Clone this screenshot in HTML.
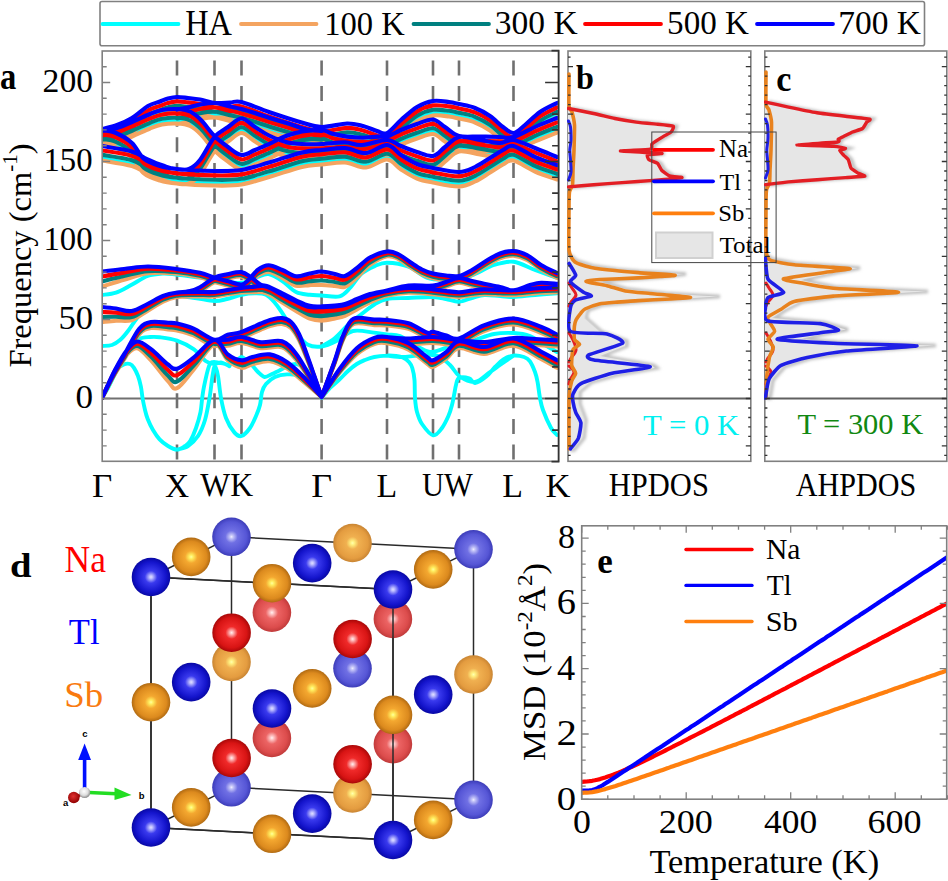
<!DOCTYPE html><html><head><meta charset="utf-8"><style>html,body{margin:0;padding:0;background:#fff;}svg{display:block;}</style></head><body><svg width="948" height="881" viewBox="0 0 948 881">
<defs>
<clipPath id="clipA"><rect x="102" y="51" width="456" height="410"/></clipPath>
<clipPath id="clipB"><rect x="567" y="51" width="184" height="410"/></clipPath>
<clipPath id="clipC"><rect x="764" y="51" width="183" height="410"/></clipPath>
<clipPath id="clipE"><rect x="582" y="526" width="365" height="273"/></clipPath>
<filter id="blur1" x="-20%" y="-20%" width="140%" height="140%"><feGaussianBlur stdDeviation="1.6"/></filter>
</defs>
<rect width="948" height="881" fill="#fff"/>
<rect x="100" y="1.5" width="824.5" height="44.2" rx="2" fill="none" stroke="#808080" stroke-width="1.6"/>
<line x1="102.5" y1="24" x2="178.5" y2="24" stroke="#00ffff" stroke-width="3.8" stroke-linecap="round"/>
<text transform="translate(185.17,34.90) scale(0.9254,1)" font-family="Liberation Serif, serif" font-size="34.99" fill="#000">HA</text>
<line x1="241" y1="24" x2="316.5" y2="24" stroke="#f4a460" stroke-width="3.8" stroke-linecap="round"/>
<text transform="translate(324.23,34.56) scale(0.9402,1)" font-family="Liberation Serif, serif" font-size="34.68" fill="#000">100 K</text>
<line x1="413.5" y1="24" x2="489" y2="24" stroke="#008080" stroke-width="3.8" stroke-linecap="round"/>
<text transform="translate(494.69,34.36) scale(0.9759,1)" font-family="Liberation Serif, serif" font-size="34.38" fill="#000">300 K</text>
<line x1="585" y1="24" x2="661" y2="24" stroke="#ff0000" stroke-width="3.8" stroke-linecap="round"/>
<text transform="translate(667.08,34.37) scale(0.9801,1)" font-family="Liberation Serif, serif" font-size="33.79" fill="#000">500 K</text>
<line x1="757" y1="24" x2="833" y2="24" stroke="#0000ff" stroke-width="3.8" stroke-linecap="round"/>
<text transform="translate(838.29,34.37) scale(0.9907,1)" font-family="Liberation Serif, serif" font-size="33.79" fill="#000">700 K</text>
<line x1="177" y1="60.5" x2="177" y2="461" stroke="#707070" stroke-width="2.6" stroke-dasharray="15 10.6"/>
<line x1="214.5" y1="60.5" x2="214.5" y2="461" stroke="#707070" stroke-width="2.6" stroke-dasharray="15 10.6"/>
<line x1="241.5" y1="60.5" x2="241.5" y2="461" stroke="#707070" stroke-width="2.6" stroke-dasharray="15 10.6"/>
<line x1="321.6" y1="60.5" x2="321.6" y2="461" stroke="#707070" stroke-width="2.6" stroke-dasharray="15 10.6"/>
<line x1="387" y1="60.5" x2="387" y2="461" stroke="#707070" stroke-width="2.6" stroke-dasharray="15 10.6"/>
<line x1="433" y1="60.5" x2="433" y2="461" stroke="#707070" stroke-width="2.6" stroke-dasharray="15 10.6"/>
<line x1="459" y1="60.5" x2="459" y2="461" stroke="#707070" stroke-width="2.6" stroke-dasharray="15 10.6"/>
<line x1="513.5" y1="60.5" x2="513.5" y2="461" stroke="#707070" stroke-width="2.6" stroke-dasharray="15 10.6"/>
<line x1="102" y1="398.5" x2="558" y2="398.5" stroke="#707070" stroke-width="2"/>
<g clip-path="url(#clipA)" fill="none" stroke-linejoin="round" stroke-linecap="round">
<path d="M102,141.5C104.5,140.9 112,139.4 117,137.5C122,135.7 126.8,133.7 132,130.5C137.2,127.4 143.3,121.3 148,118.5C152.7,115.8 156.7,115.3 160,114C163.3,112.8 165.2,111.8 168,111C170.8,110.3 173.7,109.6 177,109.5C180.3,109.5 184.2,110.1 188,110.5C191.8,111 195.6,111.2 200,112C204.4,112.9 209.5,115 214.5,115.5C219.5,116 225.5,115.2 230,115C234.5,114.9 235,113 241.5,114.5C248,116.1 259.2,121.2 269,124.5C278.8,127.9 291.2,132 300,134.5C308.8,137 313.8,139.3 321.6,139.5C329.4,139.8 340.1,136.2 347,136C353.9,135.9 358,137.3 363,138.5C368,139.8 373,142.4 377,143.5C381,144.7 383,147.4 387,145.5C391,143.7 396,136.9 401,132.5C406,128.2 411.7,122.7 417,119.5C422.3,116.4 427.7,114.4 433,113.5C438.3,112.7 444.7,114 449,114.5C453.3,115 454.7,115.5 459,116.5C463.3,117.5 469.8,118.5 475,120.5C480.2,122.5 485.3,125.4 490,128.5C494.7,131.7 499.1,136.7 503,139.5C506.9,142.4 509.8,145.9 513.5,145.5C517.2,145.2 520.6,141 525,137.5C529.4,134 534.7,128.2 540,124.5C545.3,120.9 554.2,117 557,115.5 M102,143.5C104.5,143 112,142 117,140.5C122,139 126.5,136.9 132,134.5C137.5,132.2 145,128.5 150,126.5C155,124.5 157.5,123.4 162,122.5C166.5,121.7 172.3,121.3 177,121.5C181.7,121.8 186,122.2 190,124C194,125.9 196.9,128.5 201,132.5C205.1,136.6 210,144 214.5,148.5C219,153 223.5,156.4 228,159.5C232.5,162.7 237,167 241.5,167.5C246,168 250.4,164.4 255,162.5C259.6,160.7 263.8,158.9 269,156.5C274.2,154.2 280.5,150.6 286,148.5C291.5,146.5 296.1,145 302,144C307.9,143 316.6,142.2 321.6,142.5C326.6,142.9 327.8,144.9 332,146C336.2,147.1 341.8,148.4 347,149.1C352.2,149.8 358,150.2 363,150.2C368,150.2 373,149.3 377,149.1C381,148.9 383,150.1 387,149C391,147.9 396,144.6 401,142.5C406,140.5 411.7,138.3 417,136.5C422.3,134.8 428.3,131.5 433,132C437.7,132.5 440.7,136.8 445,139.5C449.3,142.3 453.2,147 459,148.5C464.8,150.1 473.2,148.9 480,149C486.8,149.2 494.4,149.5 500,149.5C505.6,149.6 507.7,151.2 513.5,149.5C519.3,147.9 527.8,142.7 535,139.5C542.2,136.4 553.3,132 557,130.5 M102,142.5C104.3,143 111,143.4 116,145.5C121,147.7 127.3,151.2 132,155.5C136.7,159.9 139.3,167.7 144,171.5C148.7,175.4 154.5,176.9 160,178.5C165.5,180.2 172.2,181 177,181.5C181.8,182 185.2,183 189,181.5C192.8,180 195.8,177.9 200,172.5C204.2,167.2 209.8,155 214.5,149.5C219.2,144 223.5,142.6 228,139.5C232.5,136.5 237,131 241.5,131C246,131 250.4,136.7 255,139.5C259.6,142.4 263.8,145.5 269,148C274.2,150.5 280.5,153.1 286,154.5C291.5,156 296.1,156.2 302,156.5C307.9,156.9 314.4,156.8 321.6,156.5C328.8,156.3 338.3,154.7 345,154.8C351.7,155 355,157.9 362,157.5C369,157.2 380.5,152.4 387,152.5C393.5,152.7 396,156.5 401,158.5C406,160.5 411.7,162.9 417,164.5C422.3,166.2 428.3,169.4 433,168.5C437.7,167.7 440.7,162.7 445,159.5C449.3,156.4 453.2,150.7 459,149.5C464.8,148.4 473.2,151.5 480,152.5C486.8,153.5 494.4,155.5 500,155.5C505.6,155.5 507.7,151.7 513.5,152.5C519.3,153.4 527.8,157.7 535,160.5C542.2,163.4 553.3,168 557,169.5 M177,122.1C178.8,121.8 184.2,120.9 188,120C191.8,119.2 195.6,117.8 200,117C204.4,116.3 209.8,115.3 214.5,115.5C219.2,115.8 223.5,117.5 228,118.5C232.5,119.5 237,120.4 241.5,121.5C246,122.7 250.2,124 255,125.5C259.8,127 264.2,128.7 270,130.5C275.8,132.4 284.2,134.7 290,136.5C295.8,138.4 299.7,140.4 305,141.5C310.3,142.7 318.8,143.2 321.6,143.5 M102,158.5C107,159.5 124.5,161.9 132,164C139.5,166.2 141.8,169.2 147,171.5C152.2,173.9 158,176.4 163,178C168,179.7 168.4,180.6 177,181.5C185.6,182.5 203.8,183.4 214.5,183.5C225.2,183.7 232.4,184 241.5,182.5C250.6,181.1 258.9,178 269,175C279.1,172.1 293.2,167 302,164.9C310.8,162.9 314.4,163.3 321.6,162.5C328.8,161.8 337.6,160 345,160.5C352.4,161 359,166 366,165.5C373,165 381.2,157.2 387,157.5C392.8,157.9 396,164.4 401,167.5C406,170.7 411.7,174.4 417,176.5C422.3,178.7 426,179.2 433,180.5C440,181.9 452,184.7 459,184.5C466,184.4 469.8,181.9 475,179.5C480.2,177.2 485.3,173.4 490,170.5C494.7,167.7 499.1,164.5 503,162.5C506.9,160.5 508.2,157.4 513.5,158.5C518.8,159.7 527.8,166.4 535,169.5C542.2,172.7 553.3,176.2 557,177.5 M102,295C104.3,294.6 111.1,294.4 116,292.7C120.9,291 126.3,287.6 131.6,284.8C136.8,282 142.3,277.9 147.5,276C152.7,274.1 158.2,273.8 163,273.5C167.8,273.2 170.7,273.9 176,274.5C181.3,275.1 188.6,276.2 195,277C201.4,277.8 209.2,278.7 214.5,279.5C219.8,280.3 222.5,281.4 227,282C231.5,282.6 237.7,283.3 241.5,283C245.3,282.7 247.3,281 250,280C252.7,279 254.5,278 257.6,277C260.7,276 264.5,273.5 268.6,274.2C272.7,274.9 277.7,278 282.3,281C286.9,284 291.4,289.7 296,292C300.6,294.3 305.4,294.2 309.7,294.8C314,295.4 316.6,295.2 321.6,295.5C326.6,295.8 334.9,297.6 339.6,296.4C344.3,295.1 346.3,291.8 350,288C353.7,284.2 357.4,277.3 361.6,273.6C365.8,269.9 370.8,267.8 375,266C379.2,264.2 381.4,262.6 387,262.7C392.6,262.8 401.8,264.1 408.5,266.6C415.2,269.2 421.2,275.8 427.5,278C433.8,280.2 440.8,279.7 446,280C451.2,280.3 454.2,281 459,280C463.8,279 469.2,276.5 475,274C480.8,271.5 487.6,267 494,265C500.4,263 506.7,261 513.5,261.8C520.3,262.6 527.8,267.3 535,270C542.2,272.7 553.3,276.7 557,278 M102,346C103.7,345.8 109,346 112,345C115,344 117.3,342.3 120,340C122.7,337.7 125.2,334.7 128,331C130.8,327.3 133.8,322.2 137,318C140.2,313.8 143.2,309.2 147,306C150.8,302.8 155.2,300.7 160,299C164.8,297.3 170.2,296.2 176,296C181.8,295.8 188.6,297.2 195,298C201.4,298.8 209.2,300.8 214.5,301C219.8,301.2 222.5,300 227,299C231.5,298 236.8,295.7 241.5,294.8C246.2,293.9 250.9,293.4 255,293.4C259.1,293.4 262.7,293.2 266,294.8C269.3,296.4 272.3,300 275,303C277.7,306 279.5,308.9 282,312.6C284.5,316.3 287.7,321.6 290,325C292.3,328.4 293,329.7 296,333C299,336.3 303.7,342.6 308,344.8C312.3,347.1 316.9,347.1 321.6,346.5C326.3,345.9 330.8,343.9 336,341.3C341.2,338.7 346.7,332.4 353,331C359.3,329.6 368.3,332 374,332.6C379.7,333.2 382.7,333.8 387,334.4C391.3,335 395.3,334.2 400,336C404.7,337.8 410,342.3 415,345C420,347.7 424.8,351.5 430,352C435.2,352.5 441.2,349.2 446,348C450.8,346.8 454.2,346.3 459,345C463.8,343.7 469.2,341.8 475,340C480.8,338.2 487.6,335.2 494,334C500.4,332.8 507.5,332.7 513.5,333C519.5,333.3 524.8,334 530,336C535.2,338 540.5,342.3 545,345C549.5,347.7 555,350.8 557,352 M321.6,346.5C323.8,345.1 330.6,341.6 335,338C339.4,334.4 343.6,329 348,325C352.4,321 357.1,317.5 361.6,314C366.1,310.5 370.8,306.5 375,304C379.2,301.5 381.5,300 387,299C392.5,298 400.3,298.3 408,298C415.7,297.7 426.7,296.8 433,297C439.3,297.2 441.7,298.2 446,299C450.3,299.8 454.7,301.9 459,301.7C463.3,301.5 467.8,299.1 472,298C476.2,296.9 479.7,295.3 484.4,295C489.1,294.7 495.1,295.7 500,296C504.9,296.3 507.7,297.2 513.5,297C519.3,296.8 527.8,295.6 535,295C542.2,294.4 553.3,293.5 557,293.2 M102,398C102.7,396.7 104.6,392.8 106,390C107.4,387.2 108.5,384.8 110.2,381.5C111.9,378.2 113.7,372.8 116,370C118.3,367.2 121.5,365.5 123.8,364.5C126.1,363.5 128.3,363.4 130,364C131.7,364.6 132.7,365.9 134,367.9C135.3,369.9 136.8,372.9 138,376C139.2,379.1 140.1,382.9 140.9,386.6C141.7,390.4 141.9,394.6 142.6,398.5C143.3,402.4 144.2,406.6 145,410C145.8,413.4 146.4,415.7 147.7,419C149,422.3 151,426.6 153,430C155,433.4 157.1,436.7 159.6,439.4C162.1,442.1 165.1,444.3 168,446C170.9,447.7 174.2,449.6 177,449.6C179.8,449.6 182.8,447.4 185,446C187.2,444.6 188.4,444.1 190.2,441.1C192,438.1 194.3,432.8 196,428C197.7,423.2 199.5,417.2 200.5,412.2C201.5,407.2 201.6,402.3 202.2,398C202.8,393.7 202.9,391.9 204,386.6C205.1,381.3 207.5,370.3 209,366.2C210.5,362.1 211.3,362.6 213,362C214.7,361.4 217.2,362.5 219.2,362.8C221.2,363.1 223.3,363.4 225,364C226.7,364.6 228.7,365.8 229.4,366.2 M177,449.6C178.8,449 184.5,448.3 188,446C191.5,443.7 195.2,440.3 198,436C200.8,431.7 203.1,426.3 205,420C206.9,413.7 208.2,405.3 209.5,398C210.8,390.7 211.6,381.3 212.5,376C213.4,370.7 214.1,366 215,366C215.9,366 217,370.7 218,376C219,381.3 219.7,391 221,398C222.3,405 223.8,412.2 226,418C228.2,423.8 231.9,429.6 234.5,432.6C237.1,435.6 238.9,436.8 241.5,436C244.1,435.2 247.6,431.3 250,428C252.4,424.7 254.3,419.8 256,416C257.7,412.2 259,409 260,405C261,401 261,395.5 262,392C263,388.5 263.8,386.5 266,384C268.2,381.5 271.5,378.6 275,377C278.5,375.4 282.7,374.6 287,374.4C291.3,374.2 296.7,374.2 301,376C305.3,377.8 309.6,381.3 313,385C316.4,388.7 320.2,395.8 321.6,398 M102,398C103,396.3 106,391.7 108,388C110,384.3 111.7,380.7 114,376C116.3,371.3 119.3,364.7 122,360C124.7,355.3 127.2,351.5 130,348C132.8,344.5 135.7,340.8 139,339C142.3,337.2 146.6,337.3 150,337C153.4,336.7 155.1,336.6 159.6,337.2C164.1,337.8 171.3,338.6 177,340.6C182.7,342.6 188.8,345.8 193.6,349.2C198.4,352.6 202.2,358.5 205.6,361C209,363.5 211.4,363.8 214,364C216.6,364.2 218.5,362.3 221,362.5C223.5,362.7 226.5,365.2 229,365C231.5,364.8 233.9,362.3 236,361C238.1,359.7 239.7,357 241.5,357C243.3,357 245.2,359.6 247,361C248.8,362.4 250.6,363.9 252.4,365.7C254.2,367.5 256,370.1 258,372C260,373.9 262.3,376.7 264.6,377C266.9,377.3 269.7,375 272,374C274.3,373 275.8,372.2 278.5,370.9C281.2,369.6 285.1,367.1 288,366C290.9,364.9 293.2,363.7 296,364C298.8,364.3 302.1,365.4 305,368C307.9,370.6 310.5,374.6 313.3,379.6C316.1,384.6 320.2,394.9 321.6,398 M321.6,398C323,396.3 327,391.1 330,388C333,384.9 336.4,382.4 339.4,379.6C342.4,376.8 345.1,373.6 348,371C350.9,368.4 354,365.8 356.8,364C359.6,362.2 362.1,361.2 365,360C367.9,358.8 370.6,357.7 374.3,357C378,356.3 383.4,355.8 387,355.6C390.6,355.4 393.4,355.7 396,356C398.6,356.3 400.6,356.5 402.8,357.5C405,358.5 407.4,360.2 409,362C410.6,363.8 411.4,365 412.3,368C413.2,371 414.1,375 414.5,380C414.9,385 414.6,392.7 415,398C415.4,403.3 415.8,407.7 417,412C418.2,416.3 419.3,420.1 422,424C424.7,427.9 429.9,434.6 433.2,435.3C436.5,436 439.5,431.2 442,428C444.5,424.8 446.6,420.1 448.3,416.3C450,412.5 451.1,408.5 452,405C452.9,401.5 453.3,398.7 454,395.4C454.7,392.1 455.2,387.9 456,385C456.8,382.1 456.8,379.1 459,378C461.2,376.9 466.5,377.5 469.2,378.3C471.9,379.1 472.1,383.3 475,383C477.9,382.7 483,379.2 486.3,376.5C489.6,373.8 492.1,369.9 495,367C497.9,364.1 500.3,361.3 503.4,359.4C506.5,357.5 510.1,356 513.5,355.6C516.9,355.2 521.2,356.1 524,357C526.8,357.9 528.2,358.8 530,361.3C531.8,363.8 533.7,368.5 535,372C536.3,375.5 536.8,377.8 537.6,382.1C538.4,386.4 539.1,393.4 540,398C540.9,402.6 541.2,405.1 543,410C544.8,414.9 548.6,423.5 550.9,427.7C553.2,431.9 556,433.8 557,435 M387,355.6C389.5,355.8 396.8,357 402,357C407.2,357 412.2,355.8 418,355.6C423.8,355.4 431.7,354 437,355.6C442.3,357.2 446.2,361.5 450,365C453.8,368.5 455.5,373.7 459.7,376.5C463.9,379.3 469.9,382.8 475,382C480.1,381.2 485.8,374.8 490,372C494.2,369.2 496.1,367.7 500,365C503.9,362.3 511.2,357.2 513.5,355.6" stroke="#00ffff" stroke-width="3.9"/>
<path d="M102,143.5C104.5,142.9 112,141.4 117,139.5C122,137.7 126.8,135.7 132,132.5C137.2,129.4 143.3,123.3 148,120.5C152.7,117.8 156.7,117.3 160,116C163.3,114.8 165.2,113.8 168,113C170.8,112.3 173.7,111.6 177,111.5C180.3,111.4 184.2,112.1 188,112.5C191.8,112.9 195.6,113.2 200,114C204.4,114.9 209.5,117 214.5,117.5C219.5,118 225.5,117.2 230,117C234.5,116.9 235,114.9 241.5,116.5C248,118.1 259.2,123.2 269,126.5C278.8,129.9 291.2,134 300,136.5C308.8,139 313.8,141.3 321.6,141.5C329.4,141.8 340.1,138.2 347,138C353.9,137.9 358,139.3 363,140.5C368,141.8 373,144.4 377,145.5C381,146.7 383,149.4 387,147.5C391,145.7 396,138.9 401,134.5C406,130.2 411.7,124.7 417,121.5C422.3,118.4 427.7,116.4 433,115.5C438.3,114.7 444.7,116 449,116.5C453.3,117 454.7,117.5 459,118.5C463.3,119.5 469.8,120.5 475,122.5C480.2,124.5 485.3,127.4 490,130.5C494.7,133.7 499.1,138.7 503,141.5C506.9,144.4 509.8,147.9 513.5,147.5C517.2,147.2 520.6,143 525,139.5C529.4,136 534.7,130.2 540,126.5C545.3,122.9 554.2,119 557,117.5 M102,145.5C104.5,145 112,144 117,142.5C122,141 126.5,138.9 132,136.5C137.5,134.2 145,130.5 150,128.5C155,126.5 157.5,125.4 162,124.5C166.5,123.7 172.3,123.3 177,123.5C181.7,123.8 186,124.2 190,126C194,127.9 196.9,130.4 201,134.5C205.1,138.6 210,146 214.5,150.5C219,155 223.5,158.4 228,161.5C232.5,164.7 237,169 241.5,169.5C246,170 250.4,166.4 255,164.5C259.6,162.7 263.8,160.9 269,158.5C274.2,156.2 280.5,152.6 286,150.5C291.5,148.4 296.1,147 302,146C307.9,145 316.6,144.2 321.6,144.5C326.6,144.9 327.8,146.9 332,148C336.2,149.1 341.8,150.4 347,151.1C352.2,151.8 358,152.2 363,152.2C368,152.2 373,151.3 377,151.1C381,150.9 383,152.1 387,151C391,149.9 396,146.6 401,144.5C406,142.4 411.7,140.3 417,138.5C422.3,136.8 428.3,133.5 433,134C437.7,134.5 440.7,138.8 445,141.5C449.3,144.3 453.2,148.9 459,150.5C464.8,152.1 473.2,150.9 480,151C486.8,151.2 494.4,151.4 500,151.5C505.6,151.6 507.7,153.2 513.5,151.5C519.3,149.9 527.8,144.7 535,141.5C542.2,138.4 553.3,134 557,132.5 M102,144.5C104.3,145 111,145.4 116,147.5C121,149.7 127.3,153.2 132,157.5C136.7,161.9 139.3,169.7 144,173.5C148.7,177.4 154.5,178.9 160,180.5C165.5,182.2 172.2,183 177,183.5C181.8,184 185.2,185 189,183.5C192.8,182 195.8,179.9 200,174.5C204.2,169.2 209.8,157 214.5,151.5C219.2,146 223.5,144.6 228,141.5C232.5,138.4 237,133 241.5,133C246,133 250.4,138.7 255,141.5C259.6,144.4 263.8,147.5 269,150C274.2,152.5 280.5,155.1 286,156.5C291.5,157.9 296.1,158.2 302,158.5C307.9,158.9 314.4,158.8 321.6,158.5C328.8,158.2 338.3,156.7 345,156.8C351.7,157 355,159.9 362,159.5C369,159.1 380.5,154.4 387,154.5C393.5,154.7 396,158.5 401,160.5C406,162.5 411.7,164.9 417,166.5C422.3,168.2 428.3,171.4 433,170.5C437.7,169.7 440.7,164.7 445,161.5C449.3,158.4 453.2,152.7 459,151.5C464.8,150.4 473.2,153.5 480,154.5C486.8,155.5 494.4,157.5 500,157.5C505.6,157.5 507.7,153.7 513.5,154.5C519.3,155.4 527.8,159.7 535,162.5C542.2,165.4 553.3,170 557,171.5 M177,124.1C178.8,123.8 184.2,122.9 188,122C191.8,121.2 195.6,119.8 200,119C204.4,118.3 209.8,117.3 214.5,117.5C219.2,117.8 223.5,119.5 228,120.5C232.5,121.5 237,122.4 241.5,123.5C246,124.7 250.2,126 255,127.5C259.8,129 264.2,130.7 270,132.5C275.8,134.4 284.2,136.7 290,138.5C295.8,140.4 299.7,142.4 305,143.5C310.3,144.7 318.8,145.2 321.6,145.5 M102,160.5C107,161.4 124.5,163.9 132,166C139.5,168.2 141.8,171.2 147,173.5C152.2,175.9 158,178.4 163,180C168,181.7 168.4,182.6 177,183.5C185.6,184.4 203.8,185.4 214.5,185.5C225.2,185.7 232.4,185.9 241.5,184.5C250.6,183.1 258.9,180 269,177C279.1,174.1 293.2,169 302,166.9C310.8,164.8 314.4,165.3 321.6,164.5C328.8,163.8 337.6,162 345,162.5C352.4,163 359,168 366,167.5C373,167 381.2,159.2 387,159.5C392.8,159.9 396,166.4 401,169.5C406,172.7 411.7,176.4 417,178.5C422.3,180.7 426,181.2 433,182.5C440,183.9 452,186.7 459,186.5C466,186.4 469.8,183.9 475,181.5C480.2,179.2 485.3,175.4 490,172.5C494.7,169.7 499.1,166.5 503,164.5C506.9,162.5 508.2,159.4 513.5,160.5C518.8,161.7 527.8,168.4 535,171.5C542.2,174.7 553.3,178.2 557,179.5 M102,286.5C105.7,285.4 116.3,281.9 124,279.7C131.7,277.5 139.3,274.4 148,273.3C156.7,272.3 167.3,272.8 176,273.5C184.7,274.2 193.6,275.9 200,277.3C206.4,278.7 209.9,280.7 214.5,282.1C219.1,283.5 222.9,284.3 227.4,285.5C231.9,286.7 237.7,289.3 241.4,289C245.1,288.8 246.7,286.4 249.4,284.2C252.1,282 254.4,277.8 257.6,275.8C260.8,273.8 264.5,271.7 268.6,272C272.7,272.3 277.7,275.5 282.3,277.8C286.9,280.1 291.4,284.5 296,285.7C300.6,286.9 305.4,285.2 309.7,285.1C314,285 317.4,284.9 321.6,285C325.8,285.1 331.1,285.6 335,285.9C338.9,286.2 341.3,288.2 345,286.8C348.7,285.3 352.8,281 357,277.4C361.2,273.7 365,268.5 370,264.9C375,261.4 382.3,257.3 387,256.3C391.7,255.3 394.2,257.1 398,258.8C401.8,260.6 406,264.2 410,266.8C414,269.4 418.2,272.4 422,274.3C425.8,276.2 429,277.3 433,278.3C437,279.3 441.7,279.9 446,280.3C450.3,280.7 454.7,281.7 459,280.8C463.3,279.9 467.5,277.3 472,274.8C476.5,272.3 481.3,268.6 486,265.8C490.7,263.1 495.4,260 500,258.3C504.6,256.6 509,255.6 513.5,255.8C518,256.1 522.4,257.5 527,259.8C531.6,262.1 536,266.8 541,269.8C546,272.8 554.3,276.5 557,277.8 M176,297.2C178.3,296.9 186,296.4 190,295.5C194,294.6 195.9,293.9 200,291.7C204.1,289.5 209.9,284.3 214.5,282.1C219.1,279.9 222.9,279.6 227.4,278.7C231.9,277.8 237.5,276 241.4,276.6C245.3,277.2 247.6,280 250.8,282.3C254,284.6 257.4,288.7 260.4,290.5C263.4,292.4 265,291.5 268.6,293.3C272.2,295.1 277.7,298.5 282.3,301.2C286.9,303.9 291.4,307 296,309.7C300.6,312.4 305.4,315.7 309.7,317.4C314,319.1 317.4,319.9 321.6,319.9C325.8,319.9 331.1,318.3 335,317.4C338.9,316.6 341.3,316.3 345,314.8C348.7,313.2 352.8,310.6 357,308.4C361.2,306.1 365,303.6 370,301.4C375,299.3 380.6,297.1 387,295.3C393.4,293.5 400.8,291.2 408.5,290.4C416.2,289.6 426.8,291 433,290.4C439.2,289.8 441.7,288.1 446,286.8C450.3,285.5 454.7,283 459,282.8C463.3,282.6 467.8,284.9 472,285.8C476.2,286.8 479.3,287.5 484,288.5C488.7,289.5 495.1,290.7 500,291.8C504.9,292.9 508.5,295.4 513.5,295.1C518.5,294.8 525.4,291.1 530,289.8C534.6,288.5 536.5,287.7 541,287.5C545.5,287.3 554.3,288.3 557,288.5 M102,322C104.3,321.8 111.1,321 116,320.7C120.9,320.4 126.3,321.8 131.6,320.2C136.8,318.5 142.3,314 147.5,310.9C152.7,307.8 158.2,303.9 163,301.6C167.8,299.3 170.7,298 176,297.2C181.3,296.4 188.6,296.6 195,296.5C201.4,296.4 209.1,296.8 214.5,296.5C219.9,296.2 222.9,295.2 227.4,294.5C231.9,293.8 236.8,292.9 241.4,292.5C246,292.1 251.3,292.3 254.9,292.2C258.5,292.1 260.3,291.6 263,292.2C265.7,292.7 268.1,293.8 271.3,295.5C274.5,297.3 278.2,300 282.3,302.6C286.4,305.2 291.4,308.3 296,311C300.6,313.7 305.4,317.1 309.7,318.7C314,320.3 317.4,320.6 321.6,320.6C325.8,320.6 331.1,319.2 335,318.4C338.9,317.6 341.3,317.3 345,315.8C348.7,314.2 352.8,311.6 357,309.4C361.2,307.1 365,304.7 370,302.4C375,300.2 380.6,297.4 387,295.8C393.4,294.2 400.8,293.1 408.5,292.8C416.2,292.5 426.8,293.7 433,294.2C439.2,294.7 441.7,295.3 446,295.8C450.3,296.3 454.7,297.1 459,297C463.3,296.9 467.8,295.8 472,295.3C476.2,294.8 479.3,294.3 484,294.2C488.7,294.1 495.1,294.6 500,294.8C504.9,295 508.5,295.3 513.5,295.1C518.5,294.9 525.4,294.2 530,293.8C534.6,293.4 536.5,293.1 541,292.8C545.5,292.6 554.3,292.4 557,292.3 M102,398C103.8,394.5 109.1,383.9 113,377.1C116.9,370.3 121.1,364.3 125.5,357.1C129.9,350 134.9,339.2 139.2,334.4C143.4,329.5 146.2,328.9 151,328.1C155.8,327.2 163.7,329 168,329.4C172.3,329.8 172.7,329.5 177,330.5C181.3,331.5 187.3,332.8 193.6,335.4C199.8,338 208.8,345.3 214.5,346.2C220.2,347.1 223.2,342.2 227.7,340.9C232.2,339.5 235.9,339.9 241.5,338C247.1,336.1 255.9,331.6 261,329.5C266.1,327.4 268.5,326.4 272,325.5C275.5,324.6 278.8,323.6 282,324C285.2,324.4 288.2,325.3 291,328C293.8,330.7 296.3,334.8 299,340C301.7,345.2 304.5,352.9 307,359.1C309.5,365.2 311.6,370.8 314,377.1C316.4,383.4 320.3,393.7 321.6,397 M321.6,397C323.7,391.6 330.6,374.1 334.2,364.6C337.8,355.1 339.7,346.9 342.9,340.2C346.1,333.4 348.2,326.6 353.4,324.1C358.6,321.6 368.7,324.8 374.3,325.1C379.9,325.3 381.3,324.9 387,325.5C392.7,326.1 401.8,326.7 408.5,328.9C415.2,331 423.4,337 427.5,338.4C431.6,339.9 429.8,337 433,337.4C436.2,337.9 442.2,340.2 446.5,341.3C450.8,342.4 452.7,345.9 459,344.2C465.3,342.5 475.3,334.3 484.4,331C493.5,327.7 504,324 513.5,324.4C523,324.7 534.1,330.2 541.4,333C548.6,335.7 554.4,339.4 557,340.7 M102,398C104.2,393.7 110.8,379.6 115,372.4C119.2,365.1 123.2,358.6 127,354.5C130.8,350.5 133.5,347.3 137.5,348.3C141.5,349.3 145.9,354.9 151,360.3C156.1,365.8 163.7,376.5 168,381.1C172.3,385.8 172.7,390.1 177,388.2C181.3,386.3 187.3,376.9 193.6,369.6C199.8,362.3 208.8,345.9 214.5,344.3C220.2,342.7 223.2,356.4 227.7,360.3C232.2,364.2 237.4,367.1 241.5,367.8C245.6,368.4 247.7,365.3 252.4,364.2C257.1,363.1 264,360.4 269.8,361.2C275.6,361.9 281.4,364.9 287.2,368.5C293,372.1 298.9,377.9 304.6,382.6C310.3,387.4 318.8,394.6 321.6,397 M321.6,397C324.6,393 333.5,380.1 339.4,373C345.3,365.9 351,359.2 356.8,354.3C362.6,349.5 369.3,345.9 374.3,344.1C379.3,342.2 381.3,342.3 387,343.3C392.7,344.2 401.8,346.2 408.5,349.6C415.2,353.1 423.4,361.2 427.5,364.1C431.6,366.9 429.8,367.8 433,366.9C436.2,366 442.2,361.6 446.5,358.5C450.8,355.4 452.7,348.8 459,348.1C465.3,347.3 475.3,354.4 484.4,354C493.5,353.6 504,344.8 513.5,345.7C523,346.6 534.1,355.5 541.4,359.2C548.6,362.9 554.4,366.4 557,367.8 M214.5,345.8C216.7,345.8 223.2,346.3 227.7,345.8C232.2,345.3 235.9,342.6 241.5,343C247.1,343.4 254.2,347.5 261,348.2C267.8,348.9 276.2,345.4 282,347.3C287.8,349.2 291.3,354.2 295.9,359.5C300.5,364.8 305.5,373 309.8,379.3C314.1,385.5 319.6,394 321.6,397 M387,343C390.6,343.2 400.8,344.5 408.5,344.5C416.2,344.5 424.6,342.8 433,343C441.4,343.2 450.3,345.2 459,346C467.7,346.8 475.9,348.3 485,348C494.1,347.7 505.2,344.5 513.5,344C521.8,343.5 527.8,344.6 535,345C542.2,345.4 553.3,346.2 557,346.4" stroke="#f4a460" stroke-width="4.1"/>
<path d="M102,137.8C104.5,137.1 112,135.6 117,133.8C122,132 126.8,130 132,126.8C137.2,123.6 143.3,117.5 148,114.8C152.7,112 156.7,111.5 160,110.3C163.3,109 165.2,108 168,107.3C170.8,106.5 173.7,105.9 177,105.8C180.3,105.7 184.2,106.4 188,106.8C191.8,107.2 195.6,107.5 200,108.3C204.4,109.1 209.5,111.3 214.5,111.8C219.5,112.3 225.5,111.5 230,111.3C234.5,111.1 235,109.2 241.5,110.8C248,112.4 259.2,117.5 269,120.8C278.8,124.1 291.2,128.3 300,130.8C308.8,133.3 313.8,135.6 321.6,135.8C329.4,136.1 340.1,132.5 347,132.3C353.9,132.1 358,133.6 363,134.8C368,136.1 373,138.6 377,139.8C381,141 383,143.6 387,141.8C391,140 396,133.1 401,128.8C406,124.5 411.7,119 417,115.8C422.3,112.6 427.7,110.6 433,109.8C438.3,109 444.7,110.3 449,110.8C453.3,111.3 454.7,111.8 459,112.8C463.3,113.8 469.8,114.8 475,116.8C480.2,118.8 485.3,121.6 490,124.8C494.7,128 499.1,133 503,135.8C506.9,138.6 509.8,142.1 513.5,141.8C517.2,141.5 520.6,137.3 525,133.8C529.4,130.3 534.7,124.5 540,120.8C545.3,117.1 554.2,113.3 557,111.8 M102,139.8C104.5,139.3 112,138.3 117,136.8C122,135.3 126.5,133.1 132,130.8C137.5,128.5 145,124.8 150,122.8C155,120.8 157.5,119.6 162,118.8C166.5,118 172.3,117.5 177,117.8C181.7,118 186,118.5 190,120.3C194,122.1 196.9,124.7 201,128.8C205.1,132.9 210,140.3 214.5,144.8C219,149.3 223.5,152.6 228,155.8C232.5,159 237,163.3 241.5,163.8C246,164.3 250.4,160.6 255,158.8C259.6,157 263.8,155.1 269,152.8C274.2,150.5 280.5,146.9 286,144.8C291.5,142.7 296.1,141.3 302,140.3C307.9,139.3 316.6,138.5 321.6,138.8C326.6,139.1 327.8,141.2 332,142.3C336.2,143.4 341.8,144.7 347,145.4C352.2,146.1 358,146.5 363,146.5C368,146.5 373,145.6 377,145.4C381,145.2 383,146.4 387,145.3C391,144.2 396,140.9 401,138.8C406,136.7 411.7,134.6 417,132.8C422.3,131.1 428.3,127.8 433,128.3C437.7,128.8 440.7,133.1 445,135.8C449.3,138.6 453.2,143.2 459,144.8C464.8,146.4 473.2,145.1 480,145.3C486.8,145.5 494.4,145.7 500,145.8C505.6,145.9 507.7,147.5 513.5,145.8C519.3,144.1 527.8,139 535,135.8C542.2,132.6 553.3,128.3 557,126.8 M102,138.8C104.3,139.3 111,139.6 116,141.8C121,144 127.3,147.5 132,151.8C136.7,156.1 139.3,164 144,167.8C148.7,171.6 154.5,173.1 160,174.8C165.5,176.5 172.2,177.3 177,177.8C181.8,178.3 185.2,179.3 189,177.8C192.8,176.3 195.8,174.1 200,168.8C204.2,163.5 209.8,151.3 214.5,145.8C219.2,140.3 223.5,138.9 228,135.8C232.5,132.7 237,127.3 241.5,127.3C246,127.3 250.4,133 255,135.8C259.6,138.6 263.8,141.8 269,144.3C274.2,146.8 280.5,149.4 286,150.8C291.5,152.2 296.1,152.5 302,152.8C307.9,153.1 314.4,153.1 321.6,152.8C328.8,152.5 338.3,150.9 345,151.1C351.7,151.3 355,154.2 362,153.8C369,153.4 380.5,148.6 387,148.8C393.5,149 396,152.8 401,154.8C406,156.8 411.7,159.1 417,160.8C422.3,162.5 428.3,165.6 433,164.8C437.7,164 440.7,159 445,155.8C449.3,152.6 453.2,147 459,145.8C464.8,144.6 473.2,147.8 480,148.8C486.8,149.8 494.4,151.8 500,151.8C505.6,151.8 507.7,148 513.5,148.8C519.3,149.6 527.8,154 535,156.8C542.2,159.6 553.3,164.3 557,165.8 M177,118.4C178.8,118 184.2,117.1 188,116.3C191.8,115.5 195.6,114 200,113.3C204.4,112.5 209.8,111.5 214.5,111.8C219.2,112 223.5,113.8 228,114.8C232.5,115.8 237,116.6 241.5,117.8C246,119 250.2,120.3 255,121.8C259.8,123.3 264.2,125 270,126.8C275.8,128.6 284.2,131 290,132.8C295.8,134.6 299.7,136.6 305,137.8C310.3,139 318.8,139.5 321.6,139.8 M102,154.8C107,155.7 124.5,158.1 132,160.3C139.5,162.5 141.8,165.5 147,167.8C152.2,170.1 158,172.6 163,174.3C168,176 168.4,176.9 177,177.8C185.6,178.7 203.8,179.6 214.5,179.8C225.2,180 232.4,180.2 241.5,178.8C250.6,177.4 258.9,174.2 269,171.3C279.1,168.4 293.2,163.3 302,161.2C310.8,159.1 314.4,159.5 321.6,158.8C328.8,158.1 337.6,156.3 345,156.8C352.4,157.3 359,162.3 366,161.8C373,161.3 381.2,153.5 387,153.8C392.8,154.1 396,160.6 401,163.8C406,167 411.7,170.6 417,172.8C422.3,175 426,175.5 433,176.8C440,178.1 452,181 459,180.8C466,180.6 469.8,178.1 475,175.8C480.2,173.5 485.3,169.6 490,166.8C494.7,164 499.1,160.8 503,158.8C506.9,156.8 508.2,153.6 513.5,154.8C518.8,156 527.8,162.6 535,165.8C542.2,169 553.3,172.5 557,173.8 M102,281.5C105.7,280.6 116.3,277.8 124,276.1C131.7,274.4 139.3,271.7 148,271.1C156.7,270.4 167.3,271.2 176,272C184.7,272.8 193.6,274.4 200,275.8C206.4,277.2 209.9,279.2 214.5,280.6C219.1,282 222.9,282.8 227.4,284C231.9,285.2 237.7,287.8 241.4,287.5C245.1,287.3 246.7,284.7 249.4,282.4C252.1,280.2 254.4,276 257.6,273.9C260.8,271.8 264.5,269.5 268.6,269.8C272.7,270 277.7,273.1 282.3,275.2C286.9,277.3 291.4,281.5 296,282.5C300.6,283.6 305.4,281.6 309.7,281.2C314,280.9 317.4,280.4 321.6,280.5C325.8,280.6 331.1,281.5 335,282C338.9,282.4 341.3,284.5 345,283.2C348.7,281.9 352.8,277.7 357,274.2C361.2,270.8 365,265.7 370,262.5C375,259.2 382.3,255.6 387,254.7C391.7,253.8 394.2,255.4 398,257.2C401.8,258.9 406,262.6 410,265.2C414,267.8 418.2,270.8 422,272.7C425.8,274.6 429,275.7 433,276.7C437,277.7 441.7,278.3 446,278.7C450.3,279.1 454.7,280.1 459,279.2C463.3,278.3 467.5,275.7 472,273.2C476.5,270.7 481.3,266.9 486,264.2C490.7,261.4 495.4,258.4 500,256.7C504.6,255 509,253.9 513.5,254.2C518,254.4 522.4,255.9 527,258.2C531.6,260.5 536,265.2 541,268.2C546,271.2 554.3,274.9 557,276.2 M176,295.7C178.3,295.4 186,294.9 190,294C194,293.1 195.9,292.4 200,290.2C204.1,288 209.9,282.8 214.5,280.6C219.1,278.4 222.9,278.1 227.4,277.2C231.9,276.3 237.5,274.6 241.4,275.1C245.3,275.7 247.6,278.3 250.8,280.5C254,282.8 257.4,286.8 260.4,288.5C263.4,290.3 265,289.4 268.6,291.1C272.2,292.7 277.7,296 282.3,298.6C286.9,301.2 291.4,304.1 296,306.5C300.6,309 305.4,312 309.7,313.5C314,315 317.4,315.4 321.6,315.4C325.8,315.4 331.1,314.2 335,313.5C338.9,312.7 341.3,312.5 345,311.2C348.7,309.8 352.8,307.3 357,305.2C361.2,303.2 365,300.9 370,299C375,297 380.6,295.4 387,293.7C393.4,292 400.8,289.6 408.5,288.8C416.2,288 426.8,289.4 433,288.8C439.2,288.2 441.7,286.5 446,285.2C450.3,283.9 454.7,281.4 459,281.2C463.3,281 467.8,283.2 472,284.2C476.2,285.1 479.3,285.9 484,286.9C488.7,287.9 495.1,289.1 500,290.2C504.9,291.3 508.5,293.8 513.5,293.5C518.5,293.2 525.4,289.5 530,288.2C534.6,286.9 536.5,286.1 541,285.9C545.5,285.7 554.3,286.7 557,286.9 M102,317C104.3,316.9 111.1,316.6 116,316.7C120.9,316.7 126.3,318.5 131.6,317.1C136.8,315.8 142.3,311.5 147.5,308.6C152.7,305.7 158.2,301.9 163,299.7C167.8,297.6 170.7,296.5 176,295.7C181.3,294.9 188.6,295.1 195,295C201.4,294.9 209.1,295.3 214.5,295C219.9,294.7 222.9,293.7 227.4,293C231.9,292.3 236.8,291.5 241.4,291C246,290.6 251.3,290.5 254.9,290.3C258.5,290.2 260.3,289.6 263,290.1C265.7,290.5 268.1,291.6 271.3,293.2C274.5,294.9 278.2,297.6 282.3,300C286.4,302.4 291.4,305.4 296,307.8C300.6,310.3 305.4,313.4 309.7,314.8C314,316.2 317.4,316.2 321.6,316.1C325.8,316 331.1,315.1 335,314.5C338.9,313.8 341.3,313.5 345,312.2C348.7,310.8 352.8,308.3 357,306.2C361.2,304.2 365,302 370,300C375,298 380.6,295.7 387,294.2C393.4,292.7 400.8,291.5 408.5,291.2C416.2,290.9 426.8,292.1 433,292.6C439.2,293.1 441.7,293.7 446,294.2C450.3,294.7 454.7,295.5 459,295.4C463.3,295.3 467.8,294.2 472,293.7C476.2,293.2 479.3,292.7 484,292.6C488.7,292.5 495.1,293 500,293.2C504.9,293.4 508.5,293.7 513.5,293.5C518.5,293.3 525.4,292.6 530,292.2C534.6,291.8 536.5,291.4 541,291.2C545.5,290.9 554.3,290.8 557,290.7 M102,398C103.8,394.4 109.1,383.5 113,376.4C116.9,369.4 121.1,362.9 125.5,355.6C129.9,348.3 134.9,337.4 139.2,332.5C143.4,327.6 146.2,326.9 151,326C155.8,325.2 163.7,326.8 168,327.2C172.3,327.6 172.7,327.2 177,328.2C181.3,329.2 187.3,330.5 193.6,333.1C199.8,335.8 208.8,343.1 214.5,344C220.2,345 223.2,340.2 227.7,338.8C232.2,337.5 235.9,337.9 241.5,336C247.1,334.1 255.9,329.6 261,327.5C266.1,325.4 268.5,324.4 272,323.5C275.5,322.6 278.8,321.6 282,322C285.2,322.4 288.2,323.3 291,326C293.8,328.7 296.3,332.7 299,338C301.7,343.3 304.5,351.3 307,357.7C309.5,364.1 311.6,369.9 314,376.4C316.4,383 320.3,393.6 321.6,397 M321.6,397C323.7,391.5 330.6,373.5 334.2,363.8C337.8,354.1 339.7,345.7 342.9,338.8C346.1,331.9 348.2,324.9 353.4,322.3C358.6,319.7 368.7,323 374.3,323.2C379.9,323.5 381.3,323 387,323.7C392.7,324.3 401.8,324.9 408.5,327C415.2,329.2 423.4,335.1 427.5,336.5C431.6,338 429.8,335.1 433,335.6C436.2,336 442.2,338.3 446.5,339.4C450.8,340.5 452.7,344 459,342.3C465.3,340.6 475.3,332.4 484.4,329.1C493.5,325.7 504,322.1 513.5,322.4C523,322.7 534.1,328.3 541.4,331C548.6,333.7 554.4,337.4 557,338.7 M102,398C104.2,393.6 110.8,379.1 115,371.6C119.2,364.1 123.2,357.3 127,353C130.8,348.8 133.5,345.4 137.5,346C141.5,346.6 145.9,351.7 151,356.6C156.1,361.6 163.7,371.4 168,375.6C172.3,379.8 172.7,383.4 177,381.7C181.3,380 187.3,372.1 193.6,365.6C199.8,359.2 208.8,344 214.5,342.8C220.2,341.6 223.2,354.5 227.7,358.3C232.2,362 237.4,364.7 241.5,365.3C245.6,365.9 247.7,362.9 252.4,361.8C257.1,360.7 264,358.1 269.8,358.9C275.6,359.7 281.4,362.7 287.2,366.4C293,370.1 298.9,376 304.6,381C310.3,386.1 318.8,394.3 321.6,397 M321.6,397C324.6,392.8 333.5,379.2 339.4,371.7C345.3,364.3 351,357.3 356.8,352.3C362.6,347.4 369.3,343.9 374.3,342C379.3,340.2 381.3,340.3 387,341.2C392.7,342.1 401.8,344 408.5,347.5C415.2,350.9 423.4,359 427.5,361.9C431.6,364.7 429.8,365.6 433,364.7C436.2,363.8 442.2,359.4 446.5,356.3C450.8,353.1 452.7,346.6 459,345.8C465.3,345.1 475.3,352.1 484.4,351.6C493.5,351.2 504,342.4 513.5,343.3C523,344.1 534.1,353.1 541.4,356.7C548.6,360.4 554.4,363.9 557,365.3 M214.5,343.8C216.7,343.8 223.2,344.3 227.7,343.8C232.2,343.3 235.9,340.6 241.5,341C247.1,341.4 254.2,345.5 261,346.2C267.8,346.9 276.2,343.4 282,345.3C287.8,347.2 291.3,352 295.9,357.5C300.5,363 305.5,371.6 309.8,378.2C314.1,384.8 319.6,393.9 321.6,397 M387,341C390.6,341.2 400.8,342.5 408.5,342.5C416.2,342.5 424.6,340.8 433,341C441.4,341.2 450.3,343.2 459,344C467.7,344.8 475.9,346.3 485,346C494.1,345.7 505.2,342.5 513.5,342C521.8,341.5 527.8,342.6 535,343C542.2,343.4 553.3,344.2 557,344.4" stroke="#008080" stroke-width="4.1"/>
<path d="M102,133.4C104.5,132.7 112,131.2 117,129.4C122,127.6 126.8,125.6 132,122.4C137.2,119.2 143.3,113.2 148,110.4C152.7,107.7 156.7,107.2 160,105.9C163.3,104.7 165.2,103.7 168,102.9C170.8,102.2 173.7,101.5 177,101.4C180.3,101.3 184.2,102 188,102.4C191.8,102.8 195.6,103.1 200,103.9C204.4,104.7 209.5,106.9 214.5,107.4C219.5,107.9 225.5,107.1 230,106.9C234.5,106.7 235,104.8 241.5,106.4C248,108 259.2,113.1 269,116.4C278.8,119.7 291.2,123.9 300,126.4C308.8,128.9 313.8,131.2 321.6,131.4C329.4,131.7 340.1,128.1 347,127.9C353.9,127.7 358,129.2 363,130.4C368,131.7 373,134.2 377,135.4C381,136.6 383,139.2 387,137.4C391,135.6 396,128.7 401,124.4C406,120.1 411.7,114.6 417,111.4C422.3,108.2 427.7,106.2 433,105.4C438.3,104.6 444.7,105.9 449,106.4C453.3,106.9 454.7,107.4 459,108.4C463.3,109.4 469.8,110.4 475,112.4C480.2,114.4 485.3,117.2 490,120.4C494.7,123.6 499.1,128.6 503,131.4C506.9,134.2 509.8,137.7 513.5,137.4C517.2,137.1 520.6,132.9 525,129.4C529.4,125.9 534.7,120.1 540,116.4C545.3,112.7 554.2,108.9 557,107.4 M102,135.4C104.5,134.9 112,133.9 117,132.4C122,130.9 126.5,128.7 132,126.4C137.5,124.1 145,120.4 150,118.4C155,116.4 157.5,115.2 162,114.4C166.5,113.6 172.3,113.2 177,113.4C181.7,113.7 186,114.1 190,115.9C194,117.7 196.9,120.3 201,124.4C205.1,128.5 210,135.9 214.5,140.4C219,144.9 223.5,148.2 228,151.4C232.5,154.6 237,158.9 241.5,159.4C246,159.9 250.4,156.2 255,154.4C259.6,152.6 263.8,150.7 269,148.4C274.2,146.1 280.5,142.5 286,140.4C291.5,138.3 296.1,136.9 302,135.9C307.9,134.9 316.6,134.1 321.6,134.4C326.6,134.7 327.8,136.8 332,137.9C336.2,139 341.8,140.3 347,141C352.2,141.7 358,142.1 363,142.1C368,142.1 373,141.2 377,141C381,140.8 383,142 387,140.9C391,139.8 396,136.5 401,134.4C406,132.3 411.7,130.2 417,128.4C422.3,126.7 428.3,123.4 433,123.9C437.7,124.4 440.7,128.7 445,131.4C449.3,134.2 453.2,138.8 459,140.4C464.8,142 473.2,140.7 480,140.9C486.8,141.1 494.4,141.3 500,141.4C505.6,141.5 507.7,143.1 513.5,141.4C519.3,139.7 527.8,134.6 535,131.4C542.2,128.2 553.3,123.9 557,122.4 M102,134.4C104.3,134.9 111,135.2 116,137.4C121,139.6 127.3,143.1 132,147.4C136.7,151.7 139.3,159.6 144,163.4C148.7,167.2 154.5,168.7 160,170.4C165.5,172.1 172.2,172.9 177,173.4C181.8,173.9 185.2,174.9 189,173.4C192.8,171.9 195.8,169.7 200,164.4C204.2,159.1 209.8,146.9 214.5,141.4C219.2,135.9 223.5,134.5 228,131.4C232.5,128.3 237,122.9 241.5,122.9C246,122.9 250.4,128.6 255,131.4C259.6,134.2 263.8,137.4 269,139.9C274.2,142.4 280.5,145 286,146.4C291.5,147.8 296.1,148.1 302,148.4C307.9,148.7 314.4,148.7 321.6,148.4C328.8,148.1 338.3,146.5 345,146.7C351.7,146.9 355,149.8 362,149.4C369,149 380.5,144.2 387,144.4C393.5,144.6 396,148.4 401,150.4C406,152.4 411.7,154.7 417,156.4C422.3,158.1 428.3,161.2 433,160.4C437.7,159.6 440.7,154.6 445,151.4C449.3,148.2 453.2,142.6 459,141.4C464.8,140.2 473.2,143.4 480,144.4C486.8,145.4 494.4,147.4 500,147.4C505.6,147.4 507.7,143.6 513.5,144.4C519.3,145.2 527.8,149.6 535,152.4C542.2,155.2 553.3,159.9 557,161.4 M177,114C178.8,113.7 184.2,112.8 188,111.9C191.8,111.1 195.6,109.7 200,108.9C204.4,108.2 209.8,107.2 214.5,107.4C219.2,107.7 223.5,109.4 228,110.4C232.5,111.4 237,112.2 241.5,113.4C246,114.6 250.2,115.9 255,117.4C259.8,118.9 264.2,120.6 270,122.4C275.8,124.2 284.2,126.6 290,128.4C295.8,130.2 299.7,132.2 305,133.4C310.3,134.6 318.8,135.1 321.6,135.4 M102,150.4C107,151.3 124.5,153.7 132,155.9C139.5,158.1 141.8,161.1 147,163.4C152.2,165.7 158,168.2 163,169.9C168,171.6 168.4,172.5 177,173.4C185.6,174.3 203.8,175.2 214.5,175.4C225.2,175.6 232.4,175.8 241.5,174.4C250.6,173 258.9,169.8 269,166.9C279.1,164 293.2,158.9 302,156.8C310.8,154.7 314.4,155.1 321.6,154.4C328.8,153.7 337.6,151.9 345,152.4C352.4,152.9 359,157.9 366,157.4C373,156.9 381.2,149.1 387,149.4C392.8,149.7 396,156.2 401,159.4C406,162.6 411.7,166.2 417,168.4C422.3,170.6 426,171.1 433,172.4C440,173.7 452,176.6 459,176.4C466,176.2 469.8,173.7 475,171.4C480.2,169.1 485.3,165.2 490,162.4C494.7,159.6 499.1,156.4 503,154.4C506.9,152.4 508.2,149.2 513.5,150.4C518.8,151.6 527.8,158.2 535,161.4C542.2,164.6 553.3,168.1 557,169.4 M102,276.5C105.7,275.8 116.3,273.8 124,272.6C131.7,271.3 139.3,269.1 148,268.8C156.7,268.4 167.3,269.6 176,270.5C184.7,271.4 193.6,272.9 200,274.3C206.4,275.7 209.9,277.7 214.5,279.1C219.1,280.5 222.9,281.3 227.4,282.5C231.9,283.7 237.7,286.3 241.4,286C245.1,285.7 246.7,283.1 249.4,280.7C252.1,278.4 254.4,274.1 257.6,271.9C260.8,269.7 264.5,267.4 268.6,267.5C272.7,267.6 277.7,270.6 282.3,272.6C286.9,274.6 291.4,278.6 296,279.4C300.6,280.2 305.4,277.9 309.7,277.4C314,276.8 317.4,275.9 321.6,276C325.8,276.1 331.1,277.4 335,278C338.9,278.6 341.3,280.7 345,279.6C348.7,278.4 352.8,274.4 357,271.1C361.2,267.8 365,263 370,260C375,257 382.3,253.8 387,253.1C391.7,252.4 394.2,253.8 398,255.6C401.8,257.4 406,261 410,263.6C414,266.2 418.2,269.2 422,271.1C425.8,273 429,274.1 433,275.1C437,276.1 441.7,276.7 446,277.1C450.3,277.5 454.7,278.5 459,277.6C463.3,276.7 467.5,274.1 472,271.6C476.5,269.1 481.3,265.4 486,262.6C490.7,259.9 495.4,256.8 500,255.1C504.6,253.4 509,252.3 513.5,252.6C518,252.8 522.4,254.3 527,256.6C531.6,258.9 536,263.6 541,266.6C546,269.6 554.3,273.3 557,274.6 M176,294.2C178.3,293.9 186,293.4 190,292.5C194,291.6 195.9,290.9 200,288.7C204.1,286.5 209.9,281.3 214.5,279.1C219.1,276.9 222.9,276.6 227.4,275.7C231.9,274.8 237.5,273.1 241.4,273.6C245.3,274.1 247.6,276.6 250.8,278.8C254,280.9 257.4,284.8 260.4,286.5C263.4,288.2 265,287.3 268.6,288.8C272.2,290.4 277.7,293.6 282.3,296C286.9,298.4 291.4,301.1 296,303.4C300.6,305.7 305.4,308.4 309.7,309.7C314,310.9 317.4,310.9 321.6,310.9C325.8,310.9 331.1,310 335,309.5C338.9,308.9 341.3,308.8 345,307.6C348.7,306.4 352.8,304 357,302.1C361.2,300.3 365,298.2 370,296.5C375,294.8 380.6,293.6 387,292.1C393.4,290.6 400.8,288 408.5,287.2C416.2,286.4 426.8,287.8 433,287.2C439.2,286.6 441.7,284.9 446,283.6C450.3,282.3 454.7,279.8 459,279.6C463.3,279.4 467.8,281.7 472,282.6C476.2,283.6 479.3,284.3 484,285.3C488.7,286.3 495.1,287.5 500,288.6C504.9,289.7 508.5,292.2 513.5,291.9C518.5,291.6 525.4,287.9 530,286.6C534.6,285.3 536.5,284.5 541,284.3C545.5,284.1 554.3,285.1 557,285.3 M102,312C104.3,312.1 111.1,312.2 116,312.6C120.9,312.9 126.3,315.1 131.6,314.1C136.8,313 142.3,309 147.5,306.3C152.7,303.6 158.2,299.9 163,297.9C167.8,295.8 170.7,294.9 176,294.2C181.3,293.5 188.6,293.6 195,293.5C201.4,293.4 209.1,293.8 214.5,293.5C219.9,293.2 222.9,292.2 227.4,291.5C231.9,290.8 236.8,290 241.4,289.5C246,289 251.3,288.7 254.9,288.5C258.5,288.2 260.3,287.6 263,288C265.7,288.4 268.1,289.3 271.3,290.9C274.5,292.5 278.2,295.1 282.3,297.4C286.4,299.7 291.4,302.5 296,304.7C300.6,307 305.4,309.8 309.7,311C314,312.1 317.4,311.7 321.6,311.6C325.8,311.5 331.1,311 335,310.5C338.9,310 341.3,309.8 345,308.6C348.7,307.4 352.8,305 357,303.1C361.2,301.3 365,299.2 370,297.5C375,295.7 380.6,293.9 387,292.6C393.4,291.3 400.8,289.9 408.5,289.6C416.2,289.3 426.8,290.5 433,291C439.2,291.5 441.7,292.1 446,292.6C450.3,293.1 454.7,293.9 459,293.8C463.3,293.7 467.8,292.6 472,292.1C476.2,291.6 479.3,291.1 484,291C488.7,290.9 495.1,291.5 500,291.6C504.9,291.8 508.5,292.1 513.5,291.9C518.5,291.7 525.4,291 530,290.6C534.6,290.2 536.5,289.9 541,289.6C545.5,289.4 554.3,289.2 557,289.1 M102,398C103.8,394.3 109.1,383 113,375.7C116.9,368.4 121.1,361.6 125.5,354.1C129.9,346.6 134.9,335.6 139.2,330.6C143.4,325.6 146.2,325 151,324C155.8,323.1 163.7,324.7 168,325C172.3,325.3 172.7,324.9 177,325.9C181.3,326.9 187.3,328.3 193.6,330.9C199.8,333.6 208.8,341 214.5,341.9C220.2,342.9 223.2,338.1 227.7,336.8C232.2,335.4 235.9,335.9 241.5,334C247.1,332.1 255.9,327.6 261,325.5C266.1,323.4 268.5,322.4 272,321.5C275.5,320.6 278.8,319.6 282,320C285.2,320.4 288.2,321.3 291,324C293.8,326.7 296.3,330.6 299,336C301.7,341.4 304.5,349.7 307,356.4C309.5,363 311.6,368.9 314,375.7C316.4,382.5 320.3,393.5 321.6,397 M321.6,397C323.7,391.3 330.6,372.9 334.2,363C337.8,353.1 339.7,344.5 342.9,337.5C346.1,330.4 348.2,323.2 353.4,320.5C358.6,317.8 368.7,321.2 374.3,321.4C379.9,321.6 381.3,321.2 387,321.8C392.7,322.5 401.8,323 408.5,325.2C415.2,327.3 423.4,333.3 427.5,334.7C431.6,336.1 429.8,333.2 433,333.7C436.2,334.1 442.2,336.4 446.5,337.5C450.8,338.6 452.7,342.1 459,340.4C465.3,338.7 475.3,330.5 484.4,327.1C493.5,323.8 504,320.1 513.5,320.5C523,320.8 534.1,326.3 541.4,329C548.6,331.7 554.4,335.4 557,336.7 M102,398C104.2,393.5 110.8,378.5 115,370.8C119.2,363 123.2,356 127,351.5C130.8,347 133.5,343.5 137.5,343.8C141.5,344 145.9,348.5 151,352.9C156.1,357.3 163.7,366.3 168,370C172.3,373.8 172.7,376.6 177,375.2C181.3,373.8 187.3,367.3 193.6,361.7C199.8,356 208.8,342.2 214.5,341.3C220.2,340.4 223.2,352.7 227.7,356.3C232.2,359.9 237.4,362.3 241.5,362.8C245.6,363.3 247.7,360.4 252.4,359.4C257.1,358.4 264,355.8 269.8,356.7C275.6,357.5 281.4,360.5 287.2,364.3C293,368.1 298.9,374 304.6,379.5C310.3,384.9 318.8,394.1 321.6,397 M321.6,397C324.6,392.6 333.5,378.2 339.4,370.5C345.3,362.7 351,355.4 356.8,350.3C362.6,345.2 369.3,341.8 374.3,340C379.3,338.1 381.3,338.2 387,339.1C392.7,340 401.8,341.9 408.5,345.3C415.2,348.8 423.4,356.8 427.5,359.7C431.6,362.5 429.8,363.4 433,362.5C436.2,361.6 442.2,357.2 446.5,354C450.8,350.9 452.7,344.3 459,343.6C465.3,342.8 475.3,349.8 484.4,349.3C493.5,348.9 504,340.1 513.5,340.9C523,341.7 534.1,350.6 541.4,354.3C548.6,357.9 554.4,361.4 557,362.8 M214.5,341.8C216.7,341.8 223.2,342.3 227.7,341.8C232.2,341.3 235.9,338.6 241.5,339C247.1,339.4 254.2,343.5 261,344.2C267.8,344.9 276.2,341.4 282,343.3C287.8,345.2 291.3,349.9 295.9,355.5C300.5,361.1 305.5,370.2 309.8,377.1C314.1,384 319.6,393.7 321.6,397 M387,339C390.6,339.2 400.8,340.5 408.5,340.5C416.2,340.5 424.6,338.8 433,339C441.4,339.2 450.3,341.2 459,342C467.7,342.8 475.9,344.3 485,344C494.1,343.7 505.2,340.5 513.5,340C521.8,339.5 527.8,340.6 535,341C542.2,341.4 553.3,342.2 557,342.4" stroke="#ff0000" stroke-width="4.1"/>
<path d="M102,129C104.5,128.3 112,126.8 117,125C122,123.2 126.8,121.2 132,118C137.2,114.8 143.3,108.8 148,106C152.7,103.2 156.7,102.8 160,101.5C163.3,100.2 165.2,99.2 168,98.5C170.8,97.8 173.7,97.1 177,97C180.3,96.9 184.2,97.6 188,98C191.8,98.4 195.6,98.7 200,99.5C204.4,100.3 209.5,102.5 214.5,103C219.5,103.5 225.5,102.7 230,102.5C234.5,102.3 235,100.4 241.5,102C248,103.6 259.2,108.7 269,112C278.8,115.3 291.2,119.5 300,122C308.8,124.5 313.8,126.8 321.6,127C329.4,127.2 340.1,123.7 347,123.5C353.9,123.3 358,124.8 363,126C368,127.2 373,129.8 377,131C381,132.2 383,134.8 387,133C391,131.2 396,124.3 401,120C406,115.7 411.7,110.2 417,107C422.3,103.8 427.7,101.8 433,101C438.3,100.2 444.7,101.5 449,102C453.3,102.5 454.7,103 459,104C463.3,105 469.8,106 475,108C480.2,110 485.3,112.8 490,116C494.7,119.2 499.1,124.2 503,127C506.9,129.8 509.8,133.3 513.5,133C517.2,132.7 520.6,128.5 525,125C529.4,121.5 534.7,115.7 540,112C545.3,108.3 554.2,104.5 557,103 M102,131C104.5,130.5 112,129.5 117,128C122,126.5 126.5,124.3 132,122C137.5,119.7 145,116 150,114C155,112 157.5,110.8 162,110C166.5,109.2 172.3,108.8 177,109C181.7,109.2 186,109.7 190,111.5C194,113.3 196.9,115.9 201,120C205.1,124.1 210,131.5 214.5,136C219,140.5 223.5,143.8 228,147C232.5,150.2 237,154.5 241.5,155C246,155.5 250.4,151.8 255,150C259.6,148.2 263.8,146.3 269,144C274.2,141.7 280.5,138.1 286,136C291.5,133.9 296.1,132.5 302,131.5C307.9,130.5 316.6,129.7 321.6,130C326.6,130.3 327.8,132.4 332,133.5C336.2,134.6 341.8,135.9 347,136.6C352.2,137.3 358,137.7 363,137.7C368,137.7 373,136.8 377,136.6C381,136.4 383,137.6 387,136.5C391,135.4 396,132.1 401,130C406,127.9 411.7,125.8 417,124C422.3,122.2 428.3,119 433,119.5C437.7,120 440.7,124.2 445,127C449.3,129.8 453.2,134.4 459,136C464.8,137.6 473.2,136.3 480,136.5C486.8,136.7 494.4,136.9 500,137C505.6,137.1 507.7,138.7 513.5,137C519.3,135.3 527.8,130.2 535,127C542.2,123.8 553.3,119.5 557,118 M102,130C104.3,130.5 111,130.8 116,133C121,135.2 127.3,138.7 132,143C136.7,147.3 139.3,155.2 144,159C148.7,162.8 154.5,164.3 160,166C165.5,167.7 172.2,168.5 177,169C181.8,169.5 185.2,170.5 189,169C192.8,167.5 195.8,165.3 200,160C204.2,154.7 209.8,142.5 214.5,137C219.2,131.5 223.5,130.1 228,127C232.5,123.9 237,118.5 241.5,118.5C246,118.5 250.4,124.2 255,127C259.6,129.8 263.8,133 269,135.5C274.2,138 280.5,140.6 286,142C291.5,143.4 296.1,143.7 302,144C307.9,144.3 314.4,144.3 321.6,144C328.8,143.7 338.3,142.1 345,142.3C351.7,142.5 355,145.4 362,145C369,144.6 380.5,139.8 387,140C393.5,140.2 396,144 401,146C406,148 411.7,150.3 417,152C422.3,153.7 428.3,156.8 433,156C437.7,155.2 440.7,150.2 445,147C449.3,143.8 453.2,138.2 459,137C464.8,135.8 473.2,139 480,140C486.8,141 494.4,143 500,143C505.6,143 507.7,139.2 513.5,140C519.3,140.8 527.8,145.2 535,148C542.2,150.8 553.3,155.5 557,157 M177,109.6C178.8,109.2 184.2,108.3 188,107.5C191.8,106.7 195.6,105.2 200,104.5C204.4,103.8 209.8,102.8 214.5,103C219.2,103.2 223.5,105 228,106C232.5,107 237,107.8 241.5,109C246,110.2 250.2,111.5 255,113C259.8,114.5 264.2,116.2 270,118C275.8,119.8 284.2,122.2 290,124C295.8,125.8 299.7,127.8 305,129C310.3,130.2 318.8,130.7 321.6,131 M102,146C107,146.9 124.5,149.3 132,151.5C139.5,153.7 141.8,156.7 147,159C152.2,161.3 158,163.8 163,165.5C168,167.2 168.4,168.1 177,169C185.6,169.9 203.8,170.8 214.5,171C225.2,171.2 232.4,171.4 241.5,170C250.6,168.6 258.9,165.4 269,162.5C279.1,159.6 293.2,154.5 302,152.4C310.8,150.3 314.4,150.7 321.6,150C328.8,149.3 337.6,147.5 345,148C352.4,148.5 359,153.5 366,153C373,152.5 381.2,144.7 387,145C392.8,145.3 396,151.8 401,155C406,158.2 411.7,161.8 417,164C422.3,166.2 426,166.7 433,168C440,169.3 452,172.2 459,172C466,171.8 469.8,169.3 475,167C480.2,164.7 485.3,160.8 490,158C494.7,155.2 499.1,152 503,150C506.9,148 508.2,144.8 513.5,146C518.8,147.2 527.8,153.8 535,157C542.2,160.2 553.3,163.7 557,165 M102,271.5C105.7,271.1 116.3,269.8 124,269C131.7,268.2 139.3,266.5 148,266.5C156.7,266.5 167.3,267.9 176,269C184.7,270.1 193.6,271.4 200,272.8C206.4,274.2 209.9,276.2 214.5,277.6C219.1,279 222.9,279.9 227.4,281C231.9,282.1 237.7,284.8 241.4,284.5C245.1,284.2 246.7,281.4 249.4,279C252.1,276.6 254.4,272.3 257.6,270C260.8,267.7 264.5,265.3 268.6,265.3C272.7,265.3 277.7,268.2 282.3,270C286.9,271.8 291.4,275.7 296,276.3C300.6,276.9 305.4,274.3 309.7,273.5C314,272.7 317.4,271.4 321.6,271.5C325.8,271.6 331.1,273.2 335,274C338.9,274.8 341.3,277 345,276C348.7,275 352.8,271.1 357,268C361.2,264.9 365,260.2 370,257.5C375,254.8 382.3,252.1 387,251.5C391.7,250.9 394.2,252.2 398,254C401.8,255.8 406,259.4 410,262C414,264.6 418.2,267.6 422,269.5C425.8,271.4 429,272.5 433,273.5C437,274.5 441.7,275.1 446,275.5C450.3,275.9 454.7,276.9 459,276C463.3,275.1 467.5,272.5 472,270C476.5,267.5 481.3,263.8 486,261C490.7,258.2 495.4,255.2 500,253.5C504.6,251.8 509,250.8 513.5,251C518,251.2 522.4,252.7 527,255C531.6,257.3 536,262 541,265C546,268 554.3,271.7 557,273 M176,292.7C178.3,292.4 186,291.9 190,291C194,290.1 195.9,289.4 200,287.2C204.1,285 209.9,279.8 214.5,277.6C219.1,275.4 222.9,275.1 227.4,274.2C231.9,273.3 237.5,271.6 241.4,272.1C245.3,272.6 247.6,274.9 250.8,277C254,279.1 257.4,282.9 260.4,284.5C263.4,286.1 265,285.1 268.6,286.6C272.2,288.1 277.7,291.1 282.3,293.4C286.9,295.7 291.4,298.2 296,300.3C300.6,302.4 305.4,304.8 309.7,305.8C314,306.8 317.4,306.4 321.6,306.4C325.8,306.3 331.1,305.9 335,305.5C338.9,305.1 341.3,305.1 345,304C348.7,302.9 352.8,300.7 357,299C361.2,297.3 365,295.4 370,294C375,292.6 380.6,291.9 387,290.5C393.4,289.1 400.8,286.4 408.5,285.6C416.2,284.8 426.8,286.2 433,285.6C439.2,285 441.7,283.3 446,282C450.3,280.7 454.7,278.2 459,278C463.3,277.8 467.8,280.1 472,281C476.2,281.9 479.3,282.7 484,283.7C488.7,284.7 495.1,285.9 500,287C504.9,288.1 508.5,290.6 513.5,290.3C518.5,290 525.4,286.3 530,285C534.6,283.7 536.5,282.9 541,282.7C545.5,282.5 554.3,283.5 557,283.7 M102,307C104.3,307.2 111.1,307.8 116,308.5C120.9,309.2 126.3,311.8 131.6,311C136.8,310.2 142.3,306.5 147.5,304C152.7,301.5 158.2,297.9 163,296C167.8,294.1 170.7,293.4 176,292.7C181.3,292 188.6,292.1 195,292C201.4,291.9 209.1,292.3 214.5,292C219.9,291.7 222.9,290.7 227.4,290C231.9,289.3 236.8,288.6 241.4,288C246,287.4 251.3,287 254.9,286.6C258.5,286.2 260.3,285.6 263,285.9C265.7,286.2 268.1,287.1 271.3,288.6C274.5,290.1 278.2,292.6 282.3,294.8C286.4,297 291.4,299.6 296,301.6C300.6,303.7 305.4,306.2 309.7,307.1C314,308 317.4,307.2 321.6,307.1C325.8,307 331.1,306.9 335,306.5C338.9,306.1 341.3,306.1 345,305C348.7,303.9 352.8,301.7 357,300C361.2,298.3 365,296.5 370,295C375,293.5 380.6,292.2 387,291C393.4,289.8 400.8,288.3 408.5,288C416.2,287.7 426.8,288.9 433,289.4C439.2,289.9 441.7,290.5 446,291C450.3,291.5 454.7,292.3 459,292.2C463.3,292.1 467.8,291 472,290.5C476.2,290 479.3,289.5 484,289.4C488.7,289.3 495.1,289.9 500,290C504.9,290.1 508.5,290.5 513.5,290.3C518.5,290.1 525.4,289.4 530,289C534.6,288.6 536.5,288.2 541,288C545.5,287.8 554.3,287.6 557,287.5 M102,398C103.8,394.2 109.1,382.6 113,375C116.9,367.4 121.1,360.3 125.5,352.6C129.9,344.9 134.9,333.8 139.2,328.7C143.4,323.6 146.2,323 151,322C155.8,321 163.7,322.5 168,322.8C172.3,323.1 172.7,322.6 177,323.6C181.3,324.6 187.3,326 193.6,328.7C199.8,331.4 208.8,338.8 214.5,339.8C220.2,340.8 223.2,336 227.7,334.7C232.2,333.4 235.9,333.9 241.5,332C247.1,330.1 255.9,325.6 261,323.5C266.1,321.4 268.5,320.4 272,319.5C275.5,318.6 278.8,317.6 282,318C285.2,318.4 288.2,319.3 291,322C293.8,324.7 296.3,328.5 299,334C301.7,339.5 304.5,348.2 307,355C309.5,361.8 311.6,368 314,375C316.4,382 320.3,393.3 321.6,397 M321.6,397C323.7,391.2 330.6,372.3 334.2,362.2C337.8,352.1 339.7,343.4 342.9,336.1C346.1,328.9 348.2,321.4 353.4,318.7C358.6,315.9 368.7,319.4 374.3,319.6C379.9,319.8 381.3,319.4 387,320C392.7,320.6 401.8,321.2 408.5,323.3C415.2,325.4 423.4,331.4 427.5,332.8C431.6,334.2 429.8,331.3 433,331.8C436.2,332.3 442.2,334.5 446.5,335.6C450.8,336.7 452.7,340.2 459,338.5C465.3,336.8 475.3,328.5 484.4,325.2C493.5,321.9 504,318.2 513.5,318.5C523,318.8 534.1,324.3 541.4,327C548.6,329.7 554.4,333.4 557,334.7 M102,398C104.2,393.3 110.8,378 115,370C119.2,362 123.2,354.8 127,350C130.8,345.2 133.5,341.6 137.5,341.5C141.5,341.4 145.9,345.4 151,349.2C156.1,353 163.7,361.2 168,364.5C172.3,367.8 172.7,369.8 177,368.7C181.3,367.6 187.3,362.5 193.6,357.7C199.8,352.9 208.8,340.4 214.5,339.8C220.2,339.2 223.2,350.9 227.7,354.3C232.2,357.7 237.4,359.9 241.5,360.3C245.6,360.8 247.7,358 252.4,357C257.1,356 264,353.5 269.8,354.4C275.6,355.3 281.4,358.3 287.2,362.2C293,366.1 298.9,372.1 304.6,377.9C310.3,383.7 318.8,393.8 321.6,397 M321.6,397C324.6,392.4 333.5,377.3 339.4,369.2C345.3,361.1 351,353.5 356.8,348.3C362.6,343.1 369.3,339.8 374.3,337.9C379.3,336 381.3,336.1 387,337C392.7,337.9 401.8,339.8 408.5,343.2C415.2,346.6 423.4,354.6 427.5,357.5C431.6,360.4 429.8,361.2 433,360.3C436.2,359.4 442.2,355 446.5,351.8C450.8,348.6 452.7,342.1 459,341.3C465.3,340.5 475.3,347.5 484.4,347C493.5,346.5 504,337.7 513.5,338.5C523,339.3 534.1,348.2 541.4,351.8C548.6,355.4 554.4,358.9 557,360.3 M214.5,339.8C216.7,339.8 223.2,340.3 227.7,339.8C232.2,339.3 235.9,336.6 241.5,337C247.1,337.4 254.2,341.5 261,342.2C267.8,342.9 276.2,339.4 282,341.3C287.8,343.2 291.3,347.7 295.9,353.5C300.5,359.3 305.5,368.8 309.8,376C314.1,383.2 319.6,393.5 321.6,397 M387,337C390.6,337.2 400.8,338.5 408.5,338.5C416.2,338.5 424.6,336.8 433,337C441.4,337.2 450.3,339.2 459,340C467.7,340.8 475.9,342.3 485,342C494.1,341.7 505.2,338.5 513.5,338C521.8,337.5 527.8,338.6 535,339C542.2,339.4 553.3,340.2 557,340.4" stroke="#0000ff" stroke-width="4.1"/>
</g>
<rect x="102.2" y="51" width="456.4" height="410.3" fill="none" stroke="#808080" stroke-width="1.6"/>
<path d="M102.2,445.9h4.5M102.2,430.1h4.5M102.2,414.3h4.5M102.2,398.5h8M102.2,382.7h4.5M102.2,366.9h4.5M102.2,351.1h4.5M102.2,335.3h4.5M102.2,319.5h8M102.2,303.7h4.5M102.2,287.9h4.5M102.2,272.1h4.5M102.2,256.3h4.5M102.2,240.5h8M102.2,224.7h4.5M102.2,208.9h4.5M102.2,193.1h4.5M102.2,177.3h4.5M102.2,161.5h8M102.2,145.7h4.5M102.2,129.9h4.5M102.2,114.1h4.5M102.2,98.3h4.5M102.2,82.5h8M102.2,66.7h4.5" stroke="#808080" stroke-width="1.4"/>
<path d="M558.6,445.9h-6.5M558.6,430.1h-6.5M558.6,414.3h-6.5M558.6,398.5h-13.5M558.6,382.7h-6.5M558.6,366.9h-6.5M558.6,351.1h-6.5M558.6,335.3h-6.5M558.6,319.5h-13.5M558.6,303.7h-6.5M558.6,287.9h-6.5M558.6,272.1h-6.5M558.6,256.3h-6.5M558.6,240.5h-13.5M558.6,224.7h-6.5M558.6,208.9h-6.5M558.6,193.1h-6.5M558.6,177.3h-6.5M558.6,161.5h-13.5M558.6,145.7h-6.5M558.6,129.9h-6.5M558.6,114.1h-6.5M558.6,98.3h-6.5M558.6,82.5h-13.5M558.6,66.7h-6.5M551.5,50.6H558.6V461.6H551.5" stroke="#333" stroke-width="1.6" fill="none"/>
<text transform="translate(42.62,91.57) scale(0.9913,1)" font-family="Liberation Serif, serif" font-size="33.94" fill="#000">200</text>
<text transform="translate(43.42,170.67) scale(0.9693,1)" font-family="Liberation Serif, serif" font-size="33.79" fill="#000">150</text>
<text transform="translate(43.42,249.67) scale(0.9693,1)" font-family="Liberation Serif, serif" font-size="33.79" fill="#000">100</text>
<text transform="translate(58.39,328.96) scale(1.0073,1)" font-family="Liberation Serif, serif" font-size="34.38" fill="#000">50</text>
<text transform="translate(75.46,407.97) scale(1.0405,1)" font-family="Liberation Serif, serif" font-size="33.79" fill="#000">0</text>
<text transform="translate(31.2,255.5) rotate(-90)" font-family="Liberation Serif, serif" font-size="32.5" text-anchor="middle">Frequency (cm<tspan font-size="21" dy="-14">-1</tspan><tspan dy="14">)</tspan></text>
<text transform="translate(-0.00,89.34) scale(0.8720,1)" font-family="Liberation Serif, serif" font-size="37.37" font-weight="bold" fill="#000">a</text>
<text transform="translate(91.99,496.50) scale(1.0278,1)" font-family="Liberation Serif, serif" font-size="34.06" fill="#000">Γ</text>
<text transform="translate(165.07,496.50) scale(0.9814,1)" font-family="Liberation Serif, serif" font-size="34.06" fill="#000">X</text>
<text transform="translate(200.27,496.00) scale(0.9531,1)" font-family="Liberation Serif, serif" font-size="33.29" fill="#000">WK</text>
<text transform="translate(311.36,496.50) scale(1.0562,1)" font-family="Liberation Serif, serif" font-size="34.06" fill="#000">Γ</text>
<text transform="translate(376.42,496.50) scale(0.9957,1)" font-family="Liberation Serif, serif" font-size="34.06" fill="#000">L</text>
<text transform="translate(421.96,496.00) scale(0.9178,1)" font-family="Liberation Serif, serif" font-size="33.29" fill="#000">UW</text>
<text transform="translate(502.22,496.50) scale(0.9957,1)" font-family="Liberation Serif, serif" font-size="34.06" fill="#000">L</text>
<text transform="translate(545.60,496.50) scale(1.0144,1)" font-family="Liberation Serif, serif" font-size="34.06" fill="#000">K</text>
<text transform="translate(608.82,496.18) scale(0.9196,1)" font-family="Liberation Serif, serif" font-size="33.19" fill="#000">HPDOS</text>
<text transform="translate(795.71,496.18) scale(0.9079,1)" font-family="Liberation Serif, serif" font-size="33.19" fill="#000">AHPDOS</text>
<rect x="568" y="51" width="182.79999999999995" height="410.3" fill="none" stroke="#808080" stroke-width="1.6"/>
<g clip-path="url(#clipB)">
<path d="M568,108.5 L568.5,108.5 L593.5,113.5 L614.8,118.5 L636.2,122.1 L657.6,124.2 L673.2,126.3 L671.1,132 L664.7,135.6 L659,139.1 L651.9,144.1 L650.4,149.1 L620.5,151 L661.8,153.4 L647.6,154.8 L649,159.8 L657.6,163.4 L661.8,170.5 L670.4,176.2 L681.8,177.6 L653.3,180.4 L622,182.6 L593.5,184.7 L568.5,186.9 L568,186.9Z" fill="#e6e6e6"/>
<path d="M568,255 L575,261 L591,266 L615,269.5 L638,271.5 L684,274 L660,277 L640,278.5 L605,280.5 L600,282 L625,289 L664,293.5 L718,296.5 L672,299.5 L640,301.5 L600,305 L586,310 L584,318 L600,332 L625,341 L625,346 L600,356 L652,365.5 L655,368 L615,375 L590,382 L578,392 L578,404 L584,420 L582,438 L572,450 L568,450Z" fill="#e6e6e6"/>
<path d="M571.5,108.5 L596.5,113.5 L617.8,118.5 L639.2,122.1 L660.6,124.2 L676.2,126.3 L674.1,132 L667.7,135.6 L662,139.1 L654.9,144.1 L653.4,149.1 L623.5,151 L664.8,153.4 L650.6,154.8 L652,159.8 L660.6,163.4 L664.8,170.5 L673.4,176.2 L684.8,177.6 L656.3,180.4 L625,182.6 L596.5,184.7 L571.5,186.9" fill="none" stroke="#bdbdbd" stroke-width="4" filter="url(#blur1)"/>
<path d="M568,108.5 L568.5,108.5 L593.5,113.5 L614.8,118.5 L636.2,122.1 L657.6,124.2 L673.2,126.3 L671.1,132 L664.7,135.6 L659,139.1 L651.9,144.1 L650.4,149.1 L620.5,151 L661.8,153.4 L647.6,154.8 L649,159.8 L657.6,163.4 L661.8,170.5 L670.4,176.2 L681.8,177.6 L653.3,180.4 L622,182.6 L593.5,184.7 L568.5,186.9 L568,186.9Z" fill="#e6e6e6"/>
<path d="M570,255 L577,261 L593,266 L617,269.5 L640,271.5 L686,274 L662,277 L642,278.5 L607,280.5 L602,282 L627,289 L666,293.5 L720,296.5 L674,299.5 L642,301.5 L602,305 L588,310 L586,318 L602,332 L627,341 L627,346 L602,356 L654,365.5 L657,368 L617,375 L592,382 L580,392 L580,404 L586,420 L584,438 L574,450 L570,450" fill="none" stroke="#bdbdbd" stroke-width="3.5" filter="url(#blur1)"/>
<path d="M568,255 L575,261 L591,266 L615,269.5 L638,271.5 L684,274 L660,277 L640,278.5 L605,280.5 L600,282 L625,289 L664,293.5 L718,296.5 L672,299.5 L640,301.5 L600,305 L586,310 L584,318 L600,332 L625,341 L625,346 L600,356 L652,365.5 L655,368 L615,375 L590,382 L578,392 L578,404 L584,420 L582,438 L572,450 L568,450Z" fill="#e6e6e6"/>
<line x1="568" y1="398.5" x2="750.8" y2="398.5" stroke="#606060" stroke-width="2"/>
<g fill="none" stroke-linejoin="round" stroke-linecap="round">
<path d="M569,283C569.5,283.8 570.8,286 572,288C573.2,290 576.2,292.7 576,295C575.8,297.3 572.2,300.2 571,302C569.8,303.8 569.3,305.3 569,306" stroke="#e31e24" stroke-width="3"/>
<path d="M569,333C569.7,334.2 571.8,337.2 573,340C574.2,342.8 576.3,347 576,350C575.7,353 572.2,356 571,358C569.8,360 569.3,361.3 569,362" stroke="#e31e24" stroke-width="3"/>
<path d="M569,366C569.8,367 573.8,369.7 574,372C574.2,374.3 570.8,378 570,380C569.2,382 569.2,383.3 569,384" stroke="#e31e24" stroke-width="3"/>
<path d="M569,74C569,77.2 568.7,102.2 569,106C569.3,109.8 571.5,110.1 572,112C572.5,113.9 574.3,121.2 574.5,125C574.7,128.8 574.1,145.5 574,150C573.9,154.5 573.1,166.5 573,170C572.9,173.5 572.9,182.8 572.5,185C572.1,187.2 569.9,189.5 569.5,192C569.1,194.5 569,204.2 569,210C569,215.8 568.4,244.8 569,250C569.6,255.2 572.8,260.3 575,262C577.2,263.7 587.3,266.5 591.3,267.4C595.3,268.2 610.3,270 615,270.5C619.7,271 632.3,272.1 638.3,272.6C644.3,273.1 672.7,274.8 674.9,275.2C677.1,275.6 663.7,276.2 660,276.5C656.3,276.8 644.3,277.6 638.3,277.9C632.3,278.2 605.2,279.2 600,279.5C594.8,279.8 586.5,280.9 586,281.3C585.5,281.7 592.9,283.1 595,283.5C597.1,283.9 604,285 607,285.7C610,286.4 621,290.1 625.3,290.9C629.6,291.7 646.1,293.1 650,293.5C653.9,293.9 660.4,294.4 664.4,294.8C668.4,295.2 689.9,297 690.5,297.4C691.1,297.8 675.2,298.7 670,299C664.8,299.3 643.8,300.3 638.3,300.6C632.8,300.9 618.9,302 615,302.3C611.1,302.6 602.2,303.3 599.2,304C596.2,304.7 586.8,308.1 585,309C583.2,309.9 581.8,312 580.9,313.1C580,314.2 576.6,318.7 576,320C575.4,321.3 574.6,324.3 574.4,326.2C574.2,328.1 573.9,337.4 574.4,339.2C574.9,341 579.7,343.3 579.6,344.4C579.5,345.4 573.8,347.6 573,349.7C572.2,351.8 571.4,362.9 571.7,365.3C572,367.7 575.7,371.6 575.7,373.2C575.7,374.8 572.4,378.6 571.7,381C571,383.4 569.4,389.9 569.1,396.7C568.8,403.5 569.1,443.7 569.1,448.9" stroke="#e8821e" stroke-width="3.6"/>
<path d="M568.5,121C568.8,122 570.1,123.8 570.5,127C570.9,130.2 571.1,136.2 571,140C570.9,143.8 569.9,146.7 569.8,150C569.7,153.3 570.3,156.3 570.5,160C570.7,163.7 571.3,168.7 571,172C570.7,175.3 568.9,178.7 568.5,180" stroke="#1f1fe6" stroke-width="3"/>
<path d="M569.1,263.5C569.8,264.7 575.6,273.4 575.7,275.2C575.8,277 569.6,280.1 570.4,281.8C571.2,283.5 581.4,290.8 583.5,292.2C585.6,293.6 592.1,295.3 591.3,296.1C590.5,296.9 577.8,298.8 575.7,300C573.6,301.2 570.9,304.8 570.4,307.9C569.9,311 566.7,328.8 570.4,331.4C574.1,334 601.8,332.8 607,334C612.2,335.2 624.5,341 622.7,343.1C620.9,345.2 591.6,353.2 588.7,354.9C585.8,356.6 587.9,358.9 594,360.1C600.1,361.3 648.3,365.3 650.1,366.6C651.9,367.9 619.1,371.5 612.2,373.2C605.3,374.9 584.8,381.5 580.9,383.6C577,385.7 573.8,392.2 573,394C572.2,395.8 572.7,400.1 573,401.9C573.3,403.7 574.9,410.2 575.7,412.3C576.5,414.4 580.6,420.2 580.9,422.8C581.2,425.4 579.3,435.8 578.3,438.4C577.2,441 571.2,447.8 570.4,448.9" stroke="#1f1fe6" stroke-width="3.6"/>
<path d="M568.5,108.5C570.6,108.9 589.6,112.7 593.5,113.5C597.4,114.3 611.2,117.8 614.8,118.5C618.4,119.2 632.6,121.6 636.2,122.1C639.8,122.6 654.5,123.9 657.6,124.2C660.7,124.5 672.1,125.6 673.2,126.3C674.3,127 671.8,131.2 671.1,132C670.4,132.8 665.7,135 664.7,135.6C663.7,136.2 660.1,138.4 659,139.1C657.9,139.8 652.6,143.3 651.9,144.1C651.2,144.9 653,148.5 650.4,149.1C647.8,149.7 619.5,150.6 620.5,151C621.5,151.4 659.5,153.1 661.8,153.4C664.1,153.7 648.7,154.3 647.6,154.8C646.5,155.3 648.2,159.1 649,159.8C649.8,160.5 656.5,162.5 657.6,163.4C658.7,164.3 660.7,169.4 661.8,170.5C662.9,171.6 668.7,175.6 670.4,176.2C672.1,176.8 683.2,177.2 681.8,177.6C680.4,177.9 658.3,180 653.3,180.4C648.3,180.8 627,182.2 622,182.6C617,183 598,184.3 593.5,184.7C589,185.1 570.6,186.7 568.5,186.9" stroke="#e31e24" stroke-width="3.4"/>
</g></g>
<path d="M568,455.4h2.6M750.8,455.4h-2.6M568,445.9h5M750.8,445.9h-5M568,436.4h2.6M750.8,436.4h-2.6M568,426.9h2.6M750.8,426.9h-2.6M568,417.5h2.6M750.8,417.5h-2.6M568,408h2.6M750.8,408h-2.6M568,398.5h5M750.8,398.5h-5M568,389h2.6M750.8,389h-2.6M568,379.5h2.6M750.8,379.5h-2.6M568,370.1h2.6M750.8,370.1h-2.6M568,360.6h2.6M750.8,360.6h-2.6M568,351.1h5M750.8,351.1h-5M568,341.6h2.6M750.8,341.6h-2.6M568,332.1h2.6M750.8,332.1h-2.6M568,322.7h2.6M750.8,322.7h-2.6M568,313.2h2.6M750.8,313.2h-2.6M568,303.7h5M750.8,303.7h-5M568,294.2h2.6M750.8,294.2h-2.6M568,284.7h2.6M750.8,284.7h-2.6M568,275.3h2.6M750.8,275.3h-2.6M568,265.8h2.6M750.8,265.8h-2.6M568,256.3h5M750.8,256.3h-5M568,246.8h2.6M750.8,246.8h-2.6M568,237.3h2.6M750.8,237.3h-2.6M568,227.9h2.6M750.8,227.9h-2.6M568,218.4h2.6M750.8,218.4h-2.6M568,208.9h5M750.8,208.9h-5M568,199.4h2.6M750.8,199.4h-2.6M568,189.9h2.6M750.8,189.9h-2.6M568,180.5h2.6M750.8,180.5h-2.6M568,171h2.6M750.8,171h-2.6M568,161.5h5M750.8,161.5h-5M568,152h2.6M750.8,152h-2.6M568,142.5h2.6M750.8,142.5h-2.6M568,133.1h2.6M750.8,133.1h-2.6M568,123.6h2.6M750.8,123.6h-2.6M568,114.1h5M750.8,114.1h-5M568,104.6h2.6M750.8,104.6h-2.6M568,95.1h2.6M750.8,95.1h-2.6M568,85.7h2.6M750.8,85.7h-2.6M568,76.2h2.6M750.8,76.2h-2.6M568,66.7h5M750.8,66.7h-5M568,57.2h2.6M750.8,57.2h-2.6" stroke="#333" stroke-width="1.3"/>
<rect x="764.8" y="51" width="182.0" height="410.3" fill="none" stroke="#808080" stroke-width="1.6"/>
<g clip-path="url(#clipC)">
<path d="M764.8,102.1 L765.5,102.1 L788.5,107.1 L817,112.8 L845.4,116.3 L869.7,119.2 L866.8,122 L862.5,128.5 L852.6,132 L845.4,135.6 L838.3,139.1 L837.6,142 L797,144.8 L834,146.3 L845.4,148.4 L839.7,150.5 L844,155.5 L848.3,159.8 L851.1,168.3 L858.3,173.3 L864.7,176.2 L845.4,177.6 L817,179.7 L788.5,181.9 L765.5,184.7 L764.8,184.7Z" fill="#e6e6e6"/>
<path d="M765,255 L770,259 L794,263.5 L833,266 L858,268 L835,272.5 L800,280 L833,287 L926,291.5 L835,297 L800,302 L784,310 L772,318 L822,322.5 L846,329.5 L823,334 L800,339 L835,342 L934,345.5 L850,352 L808,358.5 L783,366.5 L771,380 L768,398 L765,398Z" fill="#e6e6e6"/>
<path d="M768.5,102.1 L791.5,107.1 L820,112.8 L848.4,116.3 L872.7,119.2 L869.8,122 L865.5,128.5 L855.6,132 L848.4,135.6 L841.3,139.1 L840.6,142 L800,144.8 L837,146.3 L848.4,148.4 L842.7,150.5 L847,155.5 L851.3,159.8 L854.1,168.3 L861.3,173.3 L867.7,176.2 L848.4,177.6 L820,179.7 L791.5,181.9 L768.5,184.7" fill="none" stroke="#bdbdbd" stroke-width="4" filter="url(#blur1)"/>
<path d="M764.8,102.1 L765.5,102.1 L788.5,107.1 L817,112.8 L845.4,116.3 L869.7,119.2 L866.8,122 L862.5,128.5 L852.6,132 L845.4,135.6 L838.3,139.1 L837.6,142 L797,144.8 L834,146.3 L845.4,148.4 L839.7,150.5 L844,155.5 L848.3,159.8 L851.1,168.3 L858.3,173.3 L864.7,176.2 L845.4,177.6 L817,179.7 L788.5,181.9 L765.5,184.7 L764.8,184.7Z" fill="#e6e6e6"/>
<path d="M767,255 L772,259 L796,263.5 L835,266 L860,268 L837,272.5 L802,280 L835,287 L928,291.5 L837,297 L802,302 L786,310 L774,318 L824,322.5 L848,329.5 L825,334 L802,339 L837,342 L936,345.5 L852,352 L810,358.5 L785,366.5 L773,380 L770,398 L767,398" fill="none" stroke="#bdbdbd" stroke-width="3.5" filter="url(#blur1)"/>
<path d="M765,255 L770,259 L794,263.5 L833,266 L858,268 L835,272.5 L800,280 L833,287 L926,291.5 L835,297 L800,302 L784,310 L772,318 L822,322.5 L846,329.5 L823,334 L800,339 L835,342 L934,345.5 L850,352 L808,358.5 L783,366.5 L771,380 L768,398 L765,398Z" fill="#e6e6e6"/>
<line x1="764.8" y1="398.5" x2="946.8" y2="398.5" stroke="#606060" stroke-width="2"/>
<g fill="none" stroke-linejoin="round" stroke-linecap="round">
<path d="M766,283C766.5,283.8 767.8,286 769,288C770.2,290 773.2,292.7 773,295C772.8,297.3 769.2,300.2 768,302C766.8,303.8 766.3,305.3 766,306" stroke="#e31e24" stroke-width="3"/>
<path d="M766,333C766.7,334.2 768.8,337.2 770,340C771.2,342.8 773.3,347 773,350C772.7,353 769.2,356 768,358C766.8,360 766.3,361.3 766,362" stroke="#e31e24" stroke-width="3"/>
<path d="M766,366C766.8,367 770.8,369.7 771,372C771.2,374.3 767.8,378 767,380C766.2,382 766.2,383.3 766,384" stroke="#e31e24" stroke-width="3"/>
<path d="M766,72C766,75.2 765.7,100.2 766,104C766.3,107.8 768.5,108.2 769,110C769.5,111.8 771.3,118 771.5,122C771.7,126 771.1,145.2 771,150C770.9,154.8 770.1,166.7 770,170C769.9,173.3 769.9,181 769.5,183C769.1,185 766.9,187.3 766.5,190C766.1,192.7 766,204 766,210C766,216 765.6,245 766,250C766.4,255 767.2,258.5 770,260C772.8,261.5 787.9,264.1 794.2,264.8C800.5,265.5 827.7,267 833.3,267.4C838.9,267.8 850.3,268.3 850.3,268.7C850.3,269.1 840,270.3 833.3,271.3C826.6,272.3 786.8,277.5 783.7,278.7C780.6,279.9 797,282.1 802,283.1C807,284.1 823.6,287.4 833.3,288.3C843,289.2 898.6,291.4 898.6,292.2C898.6,293 843.7,295.2 833.3,296.1C822.9,297 799.4,300.1 794.2,301.4C789,302.7 783.7,307.6 781.1,309.2C778.5,310.8 769.1,315.6 768,317C766.9,318.4 769.3,321.6 770,323C770.7,324.4 774.8,329.8 774.6,331.4C774.4,333 768.1,337.6 768,339.2C767.9,340.8 773.2,345.3 773.3,347.1C773.4,348.9 770,354.6 769.4,357.5C768.8,360.4 767.1,371.8 766.8,375.8C766.5,379.9 766.1,395.8 766,398" stroke="#e8821e" stroke-width="3.6"/>
<path d="M765.5,119C765.8,120 767.1,121.8 767.5,125C767.9,128.2 768.1,133.8 768,138C767.9,142.2 766.9,146.3 766.8,150C766.7,153.7 767.3,156.7 767.5,160C767.7,163.3 768.3,167 768,170C767.7,173 765.9,176.7 765.5,178" stroke="#1f1fe6" stroke-width="3"/>
<path d="M765.4,258.3C765.7,260.4 766.2,275.8 768,279.2C769.8,282.6 783.7,290.4 783.7,292.2C783.7,294 769.8,295.9 768,297.5C766.2,299.1 765.4,305.5 765.4,307.9C765.4,310.2 762.5,319.4 768,321C773.5,322.6 813.2,322.7 820.3,323.6C827.4,324.5 838.6,329.2 838.6,330.1C838.6,331 826.4,331.8 820.3,332.7C814.2,333.6 775.9,338.1 777.2,339.2C778.5,340.2 819.3,342.5 833.3,343.2C847.3,343.9 915.6,345 916.9,345.8C918.2,346.6 857.4,349.8 846.4,351C835.4,352.2 813.7,356.1 807.2,357.5C800.7,358.9 784.9,363.3 781.1,365.4C777.3,367.5 770.8,376 769.4,378.4C768,380.8 767.2,386.9 766.8,388.9C766.4,390.9 765.6,397.1 765.5,398" stroke="#1f1fe6" stroke-width="3.6"/>
<path d="M765.5,102.1C767.4,102.5 784.2,106.2 788.5,107.1C792.8,108 812.3,112 817,112.8C821.7,113.6 841,115.8 845.4,116.3C849.8,116.8 867.9,118.7 869.7,119.2C871.5,119.7 867.4,121.2 866.8,122C866.2,122.8 863.7,127.7 862.5,128.5C861.3,129.3 854,131.4 852.6,132C851.2,132.6 846.6,135 845.4,135.6C844.2,136.2 838.9,138.6 838.3,139.1C837.6,139.6 841,141.5 837.6,142C834.2,142.5 797.3,144.4 797,144.8C796.7,145.2 830,146 834,146.3C838,146.6 844.9,148.1 845.4,148.4C845.9,148.8 839.8,149.9 839.7,150.5C839.6,151.1 843.3,154.7 844,155.5C844.7,156.3 847.7,158.7 848.3,159.8C848.9,160.9 850.3,167.2 851.1,168.3C851.9,169.4 857.2,172.6 858.3,173.3C859.4,174 865.8,175.8 864.7,176.2C863.6,176.6 849.4,177.3 845.4,177.6C841.4,177.9 821.7,179.3 817,179.7C812.3,180.1 792.8,181.5 788.5,181.9C784.2,182.3 767.4,184.5 765.5,184.7" stroke="#e31e24" stroke-width="3.4"/>
</g></g>
<path d="M764.8,455.4h2.6M946.8,455.4h-2.6M764.8,445.9h5M946.8,445.9h-5M764.8,436.4h2.6M946.8,436.4h-2.6M764.8,426.9h2.6M946.8,426.9h-2.6M764.8,417.5h2.6M946.8,417.5h-2.6M764.8,408h2.6M946.8,408h-2.6M764.8,398.5h5M946.8,398.5h-5M764.8,389h2.6M946.8,389h-2.6M764.8,379.5h2.6M946.8,379.5h-2.6M764.8,370.1h2.6M946.8,370.1h-2.6M764.8,360.6h2.6M946.8,360.6h-2.6M764.8,351.1h5M946.8,351.1h-5M764.8,341.6h2.6M946.8,341.6h-2.6M764.8,332.1h2.6M946.8,332.1h-2.6M764.8,322.7h2.6M946.8,322.7h-2.6M764.8,313.2h2.6M946.8,313.2h-2.6M764.8,303.7h5M946.8,303.7h-5M764.8,294.2h2.6M946.8,294.2h-2.6M764.8,284.7h2.6M946.8,284.7h-2.6M764.8,275.3h2.6M946.8,275.3h-2.6M764.8,265.8h2.6M946.8,265.8h-2.6M764.8,256.3h5M946.8,256.3h-5M764.8,246.8h2.6M946.8,246.8h-2.6M764.8,237.3h2.6M946.8,237.3h-2.6M764.8,227.9h2.6M946.8,227.9h-2.6M764.8,218.4h2.6M946.8,218.4h-2.6M764.8,208.9h5M946.8,208.9h-5M764.8,199.4h2.6M946.8,199.4h-2.6M764.8,189.9h2.6M946.8,189.9h-2.6M764.8,180.5h2.6M946.8,180.5h-2.6M764.8,171h2.6M946.8,171h-2.6M764.8,161.5h5M946.8,161.5h-5M764.8,152h2.6M946.8,152h-2.6M764.8,142.5h2.6M946.8,142.5h-2.6M764.8,133.1h2.6M946.8,133.1h-2.6M764.8,123.6h2.6M946.8,123.6h-2.6M764.8,114.1h5M946.8,114.1h-5M764.8,104.6h2.6M946.8,104.6h-2.6M764.8,95.1h2.6M946.8,95.1h-2.6M764.8,85.7h2.6M946.8,85.7h-2.6M764.8,76.2h2.6M946.8,76.2h-2.6M764.8,66.7h5M946.8,66.7h-5M764.8,57.2h2.6M946.8,57.2h-2.6" stroke="#333" stroke-width="1.3"/>
<text transform="translate(576.09,88.57) scale(0.9483,1)" font-family="Liberation Serif, serif" font-size="33.97" font-weight="bold" fill="#000">b</text>
<text transform="translate(776.24,90.88) scale(0.9795,1)" font-family="Liberation Serif, serif" font-size="34.76" font-weight="bold" fill="#000">c</text>
<text transform="translate(643.04,435.01) scale(1.0491,1)" font-family="Liberation Serif, serif" font-size="29.34" fill="#00f0f0">T = 0 K</text>
<text transform="translate(797.45,434.32) scale(1.0482,1)" font-family="Liberation Serif, serif" font-size="29.05" fill="#118811">T = 300 K</text>
<rect x="651.8" y="132" width="124.3" height="130.6" fill="none" stroke="#444" stroke-width="1"/>
<line x1="654" y1="149.8" x2="713" y2="149.8" stroke="#ff0000" stroke-width="3.8" stroke-linecap="round"/>
<text transform="translate(718.98,157.25) scale(0.9882,1)" font-family="Liberation Serif, serif" font-size="25.13" fill="#000">Na</text>
<line x1="654" y1="181.3" x2="713" y2="181.3" stroke="#0000ff" stroke-width="3.8" stroke-linecap="round"/>
<text transform="translate(719.56,189.50) scale(1.0013,1)" font-family="Liberation Serif, serif" font-size="24.07" fill="#000">Tl</text>
<line x1="654" y1="213.3" x2="713" y2="213.3" stroke="#ff7f0e" stroke-width="3.8" stroke-linecap="round"/>
<text transform="translate(718.35,221.07) scale(1.0409,1)" font-family="Liberation Serif, serif" font-size="23.73" fill="#000">Sb</text>
<rect x="656" y="232.5" width="56.5" height="25.5" fill="#e6e6e6" stroke="#d0d0d0" stroke-width="2"/>
<text transform="translate(719.55,252.58) scale(1.0899,1)" font-family="Liberation Serif, serif" font-size="23.02" fill="#000">Total</text>
<defs><radialGradient id="gTl0" cx="0.5" cy="0.5" r="0.5" fx="0.5" fy="0.5"><stop offset="0" stop-color="#e0e0ff"/><stop offset="0.08" stop-color="#c0c0ff"/><stop offset="0.32" stop-color="#3a3aee"/><stop offset="0.78" stop-color="#1414cc"/><stop offset="1" stop-color="#0808a4"/></radialGradient><radialGradient id="gTl1" cx="0.5" cy="0.5" r="0.5" fx="0.5" fy="0.5"><stop offset="0" stop-color="#f0f0ff"/><stop offset="0.08" stop-color="#c8c8f8"/><stop offset="0.32" stop-color="#7070e4"/><stop offset="0.78" stop-color="#5656d6"/><stop offset="1" stop-color="#3c3cb8"/></radialGradient><radialGradient id="gSb0" cx="0.5" cy="0.5" r="0.5" fx="0.5" fy="0.5"><stop offset="0" stop-color="#ffffa0"/><stop offset="0.1" stop-color="#ffee60"/><stop offset="0.32" stop-color="#f4a830"/><stop offset="0.8" stop-color="#dc8a1e"/><stop offset="1" stop-color="#b06a12"/></radialGradient><radialGradient id="gSb1" cx="0.5" cy="0.5" r="0.5" fx="0.5" fy="0.5"><stop offset="0" stop-color="#ffffb0"/><stop offset="0.1" stop-color="#fff080"/><stop offset="0.32" stop-color="#f0b050"/><stop offset="0.8" stop-color="#e49c40"/><stop offset="1" stop-color="#c88432"/></radialGradient><radialGradient id="gNa0" cx="0.5" cy="0.5" r="0.5" fx="0.5" fy="0.5"><stop offset="0" stop-color="#fff0f0"/><stop offset="0.08" stop-color="#ffc0c0"/><stop offset="0.32" stop-color="#f02a2a"/><stop offset="0.78" stop-color="#d81414"/><stop offset="1" stop-color="#a80808"/></radialGradient><radialGradient id="gNa1" cx="0.5" cy="0.5" r="0.5" fx="0.5" fy="0.5"><stop offset="0" stop-color="#fff4f4"/><stop offset="0.08" stop-color="#ffcccc"/><stop offset="0.32" stop-color="#ec6464"/><stop offset="0.78" stop-color="#dc4c4c"/><stop offset="1" stop-color="#c03a3a"/></radialGradient></defs>
<g stroke="#2a2a2a" stroke-width="1.5" fill="none">
<line x1="151" y1="827.5" x2="151" y2="577"/>
<line x1="151" y1="827.5" x2="231.5" y2="787.3"/>
<line x1="151" y1="827.5" x2="393" y2="840"/>
<line x1="151" y1="577" x2="231.5" y2="536.8"/>
<line x1="151" y1="577" x2="393" y2="589.5"/>
<line x1="231.5" y1="787.3" x2="231.5" y2="536.8"/>
<line x1="231.5" y1="787.3" x2="473.5" y2="799.8"/>
<line x1="231.5" y1="536.8" x2="473.5" y2="549.3"/>
<line x1="393" y1="840" x2="393" y2="589.5"/>
<line x1="393" y1="840" x2="473.5" y2="799.8"/>
<line x1="393" y1="589.5" x2="473.5" y2="549.3"/>
<line x1="473.5" y1="799.8" x2="473.5" y2="549.3"/>
</g>
<circle cx="231.5" cy="787.3" r="19.3" fill="url(#gTl1)"/>
<circle cx="352.5" cy="793.5" r="19.3" fill="url(#gSb1)"/>
<circle cx="473.5" cy="799.8" r="19.3" fill="url(#gTl1)"/>
<circle cx="231.5" cy="662" r="19.3" fill="url(#gSb1)"/>
<circle cx="352.5" cy="668.3" r="19.3" fill="url(#gTl1)"/>
<circle cx="473.5" cy="674.5" r="19.3" fill="url(#gSb1)"/>
<circle cx="231.5" cy="536.8" r="19.3" fill="url(#gTl1)"/>
<circle cx="352.5" cy="543" r="19.3" fill="url(#gSb1)"/>
<circle cx="473.5" cy="549.3" r="19.3" fill="url(#gTl1)"/>
<circle cx="271.9" cy="737.9" r="19.3" fill="url(#gNa1)"/>
<circle cx="392.9" cy="744.1" r="19.3" fill="url(#gNa1)"/>
<circle cx="271.9" cy="612.6" r="19.3" fill="url(#gNa1)"/>
<circle cx="392.9" cy="618.9" r="19.3" fill="url(#gNa1)"/>
<circle cx="191.2" cy="807.4" r="19.3" fill="url(#gSb0)"/>
<circle cx="312.2" cy="813.6" r="19.3" fill="url(#gTl0)"/>
<circle cx="433.2" cy="819.9" r="19.3" fill="url(#gSb0)"/>
<circle cx="191.2" cy="682.1" r="19.3" fill="url(#gTl0)"/>
<circle cx="312.2" cy="688.4" r="19.3" fill="url(#gSb0)"/>
<circle cx="433.2" cy="694.6" r="19.3" fill="url(#gTl0)"/>
<circle cx="191.2" cy="556.9" r="19.3" fill="url(#gSb0)"/>
<circle cx="312.2" cy="563.1" r="19.3" fill="url(#gTl0)"/>
<circle cx="433.2" cy="569.4" r="19.3" fill="url(#gSb0)"/>
<circle cx="231.6" cy="758" r="19.3" fill="url(#gNa0)"/>
<circle cx="352.6" cy="764.2" r="19.3" fill="url(#gNa0)"/>
<circle cx="231.6" cy="632.7" r="19.3" fill="url(#gNa0)"/>
<circle cx="352.6" cy="639" r="19.3" fill="url(#gNa0)"/>
<circle cx="151" cy="827.5" r="19.3" fill="url(#gTl0)"/>
<circle cx="272" cy="833.8" r="19.3" fill="url(#gSb0)"/>
<circle cx="393" cy="840" r="19.3" fill="url(#gTl0)"/>
<circle cx="151" cy="702.2" r="19.3" fill="url(#gSb0)"/>
<circle cx="272" cy="708.5" r="19.3" fill="url(#gTl0)"/>
<circle cx="393" cy="714.8" r="19.3" fill="url(#gSb0)"/>
<circle cx="151" cy="577" r="19.3" fill="url(#gTl0)"/>
<circle cx="272" cy="583.2" r="19.3" fill="url(#gSb0)"/>
<circle cx="393" cy="589.5" r="19.3" fill="url(#gTl0)"/>
<path d="M151,808.2L151,721.5M151,683L151,596.3M170.3,828.5L252.7,832.8M291.3,834.7L373.7,839M170.3,578L252.7,582.3M291.3,584.2L373.7,588.5M393,820.7L393,734M393,695.5L393,608.8" stroke="#2a2a2a" stroke-width="1.5"/>
<text transform="translate(10.03,576.67) scale(1.1287,1)" font-family="Liberation Serif, serif" font-size="34.25" font-weight="bold" fill="#000">d</text>
<text transform="translate(64.58,572.04) scale(0.9516,1)" font-family="Liberation Serif, serif" font-size="37.32" fill="#ff0000">Na</text>
<text transform="translate(68.78,644.30) scale(0.9517,1)" font-family="Liberation Serif, serif" font-size="36.32" fill="#0000ff">Tl</text>
<text transform="translate(64.33,707.44) scale(1.0103,1)" font-family="Liberation Serif, serif" font-size="36.53" fill="#f97a10">Sb</text>
<defs><radialGradient id="gW" cx="0.45" cy="0.4" r="0.6"><stop offset="0" stop-color="#fff"/><stop offset="0.6" stop-color="#ddd"/><stop offset="1" stop-color="#888"/></radialGradient><radialGradient id="gR" cx="0.45" cy="0.4" r="0.6"><stop offset="0" stop-color="#e03030"/><stop offset="1" stop-color="#900000"/></radialGradient></defs>
<line x1="84.6" y1="788" x2="84.6" y2="758" stroke="#0010ff" stroke-width="3.6"/>
<path d="M78.2,760 L91,760 L84.6,743.5Z" fill="#0010ff"/>
<line x1="89" y1="792.5" x2="116" y2="793.8" stroke="#22dd22" stroke-width="3.6"/>
<path d="M114.5,787.5 L114.5,800 L131.5,795Z" fill="#22dd22"/>
<line x1="84" y1="793" x2="76" y2="797" stroke="#a00000" stroke-width="3"/>
<circle cx="84.6" cy="792.5" r="5.6" fill="url(#gW)"/>
<circle cx="73.8" cy="797.5" r="5.8" fill="url(#gR)"/>
<text x="84.8" y="737" font-family="Liberation Sans, sans-serif" font-size="9.5" font-weight="bold" text-anchor="middle">c</text>
<text x="141.7" y="799" font-family="Liberation Sans, sans-serif" font-size="9.5" font-weight="bold" text-anchor="middle">b</text>
<text x="65.7" y="805.5" font-family="Liberation Sans, sans-serif" font-size="9.5" font-weight="bold" text-anchor="middle">a</text>
<g clip-path="url(#clipE)" fill="none" stroke-width="4.2" stroke-linejoin="round">
<path d="M581.7,781.9 L584.3,781.7 L586.9,781.5 L589.5,781.2 L592.2,780.8 L594.8,780.3 L597.4,779.7 L600,779.1 L602.6,778.3 L605.2,777.5 L607.8,776.6 L610.4,775.7 L613.1,774.8 L615.7,773.7 L618.3,772.7 L620.9,771.6 L623.5,770.5 L626.1,769.3 L628.7,768.2 L631.3,767 L634,765.8 L636.6,764.6 L639.2,763.3 L641.8,762.1 L644.4,760.8 L647,759.6 L649.6,758.3 L652.2,757 L654.9,755.7 L657.5,754.4 L660.1,753.1 L662.7,751.8 L665.3,750.5 L667.9,749.2 L670.5,747.9 L673.1,746.5 L675.8,745.2 L678.4,743.9 L681,742.6 L683.6,741.2 L686.2,739.9 L688.8,738.5 L691.4,737.2 L694,735.9 L696.7,734.5 L699.3,733.2 L701.9,731.8 L704.5,730.5 L707.1,729.1 L709.7,727.8 L712.3,726.4 L714.9,725.1 L717.6,723.7 L720.2,722.4 L722.8,721 L725.4,719.6 L728,718.3 L730.6,716.9 L733.2,715.6 L735.8,714.2 L738.5,712.8 L741.1,711.5 L743.7,710.1 L746.3,708.8 L748.9,707.4 L751.5,706 L754.1,704.7 L756.7,703.3 L759.4,701.9 L762,700.6 L764.6,699.2 L767.2,697.8 L769.8,696.5 L772.4,695.1 L775,693.7 L777.6,692.4 L780.2,691 L782.9,689.6 L785.5,688.3 L788.1,686.9 L790.7,685.5 L793.3,684.2 L795.9,682.8 L798.5,681.4 L801.2,680.1 L803.8,678.7 L806.4,677.3 L809,675.9 L811.6,674.6 L814.2,673.2 L816.8,671.8 L819.4,670.5 L822.1,669.1 L824.7,667.7 L827.3,666.3 L829.9,665 L832.5,663.6 L835.1,662.2 L837.7,660.9 L840.3,659.5 L843,658.1 L845.6,656.7 L848.2,655.4 L850.8,654 L853.4,652.6 L856,651.3 L858.6,649.9 L861.2,648.5 L863.9,647.1 L866.5,645.8 L869.1,644.4 L871.7,643 L874.3,641.6 L876.9,640.3 L879.5,638.9 L882.1,637.5 L884.8,636.2 L887.4,634.8 L890,633.4 L892.6,632 L895.2,630.7 L897.8,629.3 L900.4,627.9 L903,626.5 L905.7,625.2 L908.3,623.8 L910.9,622.4 L913.5,621 L916.1,619.7 L918.7,618.3 L921.3,616.9 L923.9,615.6 L926.5,614.2 L929.2,612.8 L931.8,611.4 L934.4,610.1 L937,608.7 L939.6,607.3 L942.2,605.9 L944.8,604.6 L947.5,603.2" stroke="#ff0000"/>
<path d="M581.7,790.5 L584.3,790.5 L586.9,790.5 L589.5,790.4 L592.2,790 L594.8,789.3 L597.4,788.1 L600,786.7 L602.6,785.2 L605.2,783.5 L607.8,781.9 L610.4,780.2 L613.1,778.5 L615.7,776.8 L618.3,775 L620.9,773.3 L623.5,771.6 L626.1,769.9 L628.7,768.1 L631.3,766.4 L634,764.7 L636.6,763 L639.2,761.2 L641.8,759.5 L644.4,757.8 L647,756 L649.6,754.3 L652.2,752.6 L654.9,750.8 L657.5,749.1 L660.1,747.4 L662.7,745.7 L665.3,743.9 L667.9,742.2 L670.5,740.5 L673.1,738.7 L675.8,737 L678.4,735.3 L681,733.5 L683.6,731.8 L686.2,730.1 L688.8,728.4 L691.4,726.6 L694,724.9 L696.7,723.2 L699.3,721.4 L701.9,719.7 L704.5,718 L707.1,716.2 L709.7,714.5 L712.3,712.8 L714.9,711 L717.6,709.3 L720.2,707.6 L722.8,705.9 L725.4,704.1 L728,702.4 L730.6,700.7 L733.2,698.9 L735.8,697.2 L738.5,695.5 L741.1,693.7 L743.7,692 L746.3,690.3 L748.9,688.6 L751.5,686.8 L754.1,685.1 L756.7,683.4 L759.4,681.6 L762,679.9 L764.6,678.2 L767.2,676.4 L769.8,674.7 L772.4,673 L775,671.2 L777.6,669.5 L780.2,667.8 L782.9,666.1 L785.5,664.3 L788.1,662.6 L790.7,660.9 L793.3,659.1 L795.9,657.4 L798.5,655.7 L801.2,653.9 L803.8,652.2 L806.4,650.5 L809,648.8 L811.6,647 L814.2,645.3 L816.8,643.6 L819.4,641.8 L822.1,640.1 L824.7,638.4 L827.3,636.6 L829.9,634.9 L832.5,633.2 L835.1,631.4 L837.7,629.7 L840.3,628 L843,626.3 L845.6,624.5 L848.2,622.8 L850.8,621.1 L853.4,619.3 L856,617.6 L858.6,615.9 L861.2,614.1 L863.9,612.4 L866.5,610.7 L869.1,609 L871.7,607.2 L874.3,605.5 L876.9,603.8 L879.5,602 L882.1,600.3 L884.8,598.6 L887.4,596.8 L890,595.1 L892.6,593.4 L895.2,591.6 L897.8,589.9 L900.4,588.2 L903,586.5 L905.7,584.7 L908.3,583 L910.9,581.3 L913.5,579.5 L916.1,577.8 L918.7,576.1 L921.3,574.3 L923.9,572.6 L926.5,570.9 L929.2,569.2 L931.8,567.4 L934.4,565.7 L937,564 L939.6,562.2 L942.2,560.5 L944.8,558.8 L947.5,557" stroke="#0000ff"/>
<path d="M581.7,792.8 L584.3,792.7 L586.9,792.6 L589.5,792.4 L592.2,792.1 L594.8,791.6 L597.4,791.1 L600,790.5 L602.6,789.8 L605.2,789.1 L607.8,788.3 L610.4,787.5 L613.1,786.7 L615.7,785.9 L618.3,785 L620.9,784.2 L623.5,783.3 L626.1,782.4 L628.7,781.6 L631.3,780.7 L634,779.8 L636.6,778.9 L639.2,778 L641.8,777.1 L644.4,776.2 L647,775.3 L649.6,774.4 L652.2,773.5 L654.9,772.6 L657.5,771.7 L660.1,770.8 L662.7,769.9 L665.3,769 L667.9,768.1 L670.5,767.1 L673.1,766.2 L675.8,765.3 L678.4,764.4 L681,763.5 L683.6,762.6 L686.2,761.7 L688.8,760.8 L691.4,759.9 L694,759 L696.7,758 L699.3,757.1 L701.9,756.2 L704.5,755.3 L707.1,754.4 L709.7,753.5 L712.3,752.6 L714.9,751.7 L717.6,750.7 L720.2,749.8 L722.8,748.9 L725.4,748 L728,747.1 L730.6,746.2 L733.2,745.3 L735.8,744.4 L738.5,743.4 L741.1,742.5 L743.7,741.6 L746.3,740.7 L748.9,739.8 L751.5,738.9 L754.1,738 L756.7,737 L759.4,736.1 L762,735.2 L764.6,734.3 L767.2,733.4 L769.8,732.5 L772.4,731.6 L775,730.7 L777.6,729.7 L780.2,728.8 L782.9,727.9 L785.5,727 L788.1,726.1 L790.7,725.2 L793.3,724.3 L795.9,723.3 L798.5,722.4 L801.2,721.5 L803.8,720.6 L806.4,719.7 L809,718.8 L811.6,717.9 L814.2,716.9 L816.8,716 L819.4,715.1 L822.1,714.2 L824.7,713.3 L827.3,712.4 L829.9,711.5 L832.5,710.5 L835.1,709.6 L837.7,708.7 L840.3,707.8 L843,706.9 L845.6,706 L848.2,705.1 L850.8,704.1 L853.4,703.2 L856,702.3 L858.6,701.4 L861.2,700.5 L863.9,699.6 L866.5,698.7 L869.1,697.7 L871.7,696.8 L874.3,695.9 L876.9,695 L879.5,694.1 L882.1,693.2 L884.8,692.3 L887.4,691.4 L890,690.4 L892.6,689.5 L895.2,688.6 L897.8,687.7 L900.4,686.8 L903,685.9 L905.7,685 L908.3,684 L910.9,683.1 L913.5,682.2 L916.1,681.3 L918.7,680.4 L921.3,679.5 L923.9,678.6 L926.5,677.6 L929.2,676.7 L931.8,675.8 L934.4,674.9 L937,674 L939.6,673.1 L942.2,672.2 L944.8,671.2 L947.5,670.3" stroke="#ff7f0e"/>
</g>
<rect x="581.7" y="525.8" width="365" height="273.4" fill="none" stroke="#808080" stroke-width="1.6"/>
<path d="M581.7,799.3h7M946.7,799.3h-7M581.7,786.2h4M946.7,786.2h-4M581.7,773.2h4M946.7,773.2h-4M581.7,760.1h4M946.7,760.1h-4M581.7,747.1h4M946.7,747.1h-4M581.7,734h7M946.7,734h-7M581.7,720.9h4M946.7,720.9h-4M581.7,707.9h4M946.7,707.9h-4M581.7,694.8h4M946.7,694.8h-4M581.7,681.8h4M946.7,681.8h-4M581.7,668.7h7M946.7,668.7h-7M581.7,655.6h4M946.7,655.6h-4M581.7,642.6h4M946.7,642.6h-4M581.7,629.5h4M946.7,629.5h-4M581.7,616.5h4M946.7,616.5h-4M581.7,603.4h7M946.7,603.4h-7M581.7,590.3h4M946.7,590.3h-4M581.7,577.3h4M946.7,577.3h-4M581.7,564.2h4M946.7,564.2h-4M581.7,551.2h4M946.7,551.2h-4M581.7,538.1h7M946.7,538.1h-7M581.7,799.2v-7M581.7,525.8v7M607.8,799.2v-4M607.8,525.8v4M634,799.2v-4M634,525.8v4M660.1,799.2v-4M660.1,525.8v4M686.2,799.2v-7M686.2,525.8v7M712.3,799.2v-4M712.3,525.8v4M738.5,799.2v-4M738.5,525.8v4M764.6,799.2v-4M764.6,525.8v4M790.7,799.2v-7M790.7,525.8v7M816.8,799.2v-4M816.8,525.8v4M843,799.2v-4M843,525.8v4M869.1,799.2v-4M869.1,525.8v4M895.2,799.2v-7M895.2,525.8v7M921.3,799.2v-4M921.3,525.8v4M947.5,799.2v-4M947.5,525.8v4" stroke="#808080" stroke-width="1.3"/>
<text transform="translate(557.91,548.46) scale(0.9840,1)" font-family="Liberation Serif, serif" font-size="34.53" fill="#000">8</text>
<text transform="translate(556.65,614.46) scale(1.1021,1)" font-family="Liberation Serif, serif" font-size="34.83" fill="#000">6</text>
<text transform="translate(557.09,679.80) scale(1.0226,1)" font-family="Liberation Serif, serif" font-size="35.55" fill="#000">4</text>
<text transform="translate(556.50,745.00) scale(1.1526,1)" font-family="Liberation Serif, serif" font-size="35.49" fill="#000">2</text>
<text transform="translate(556.83,809.86) scale(1.1159,1)" font-family="Liberation Serif, serif" font-size="34.68" fill="#000">0</text>
<text transform="translate(572.93,833.26) scale(1.0342,1)" font-family="Liberation Serif, serif" font-size="34.68" fill="#000">0</text>
<text transform="translate(658.71,833.26) scale(1.0413,1)" font-family="Liberation Serif, serif" font-size="34.68" fill="#000">200</text>
<text transform="translate(764.01,833.26) scale(1.0217,1)" font-family="Liberation Serif, serif" font-size="34.68" fill="#000">400</text>
<text transform="translate(867.45,833.26) scale(1.0406,1)" font-family="Liberation Serif, serif" font-size="34.68" fill="#000">600</text>
<text transform="translate(649.38,872.80) scale(1.0475,1)" font-family="Liberation Serif, serif" font-size="32.87" fill="#000">Temperature (K)</text>
<text transform="translate(545,662) rotate(-90) scale(1.09,1)" font-family="Liberation Serif, serif" font-size="32" text-anchor="middle">MSD (10<tspan font-size="21" dy="-13">-2</tspan><tspan dy="13">Å</tspan><tspan font-size="21" dy="-13">2</tspan><tspan dy="13">)</tspan></text>
<text transform="translate(597.21,573.27) scale(0.9733,1)" font-family="Liberation Serif, serif" font-size="35.87" font-weight="bold" fill="#000">e</text>
<line x1="686" y1="549.5" x2="752" y2="549.5" stroke="#ff0000" stroke-width="3.4" stroke-linecap="round"/>
<text transform="translate(765.95,559.01) scale(0.9948,1)" font-family="Liberation Serif, serif" font-size="29.79" fill="#000">Na</text>
<line x1="686" y1="585.4" x2="752" y2="585.4" stroke="#0000ff" stroke-width="3.4" stroke-linecap="round"/>
<text transform="translate(766.80,594.90) scale(0.9524,1)" font-family="Liberation Serif, serif" font-size="29.26" fill="#000">Tl</text>
<line x1="686" y1="621.5" x2="752" y2="621.5" stroke="#ff7f0e" stroke-width="3.4" stroke-linecap="round"/>
<text transform="translate(765.77,631.03) scale(1.0760,1)" font-family="Liberation Serif, serif" font-size="28.14" fill="#000">Sb</text>
</svg></body></html>
